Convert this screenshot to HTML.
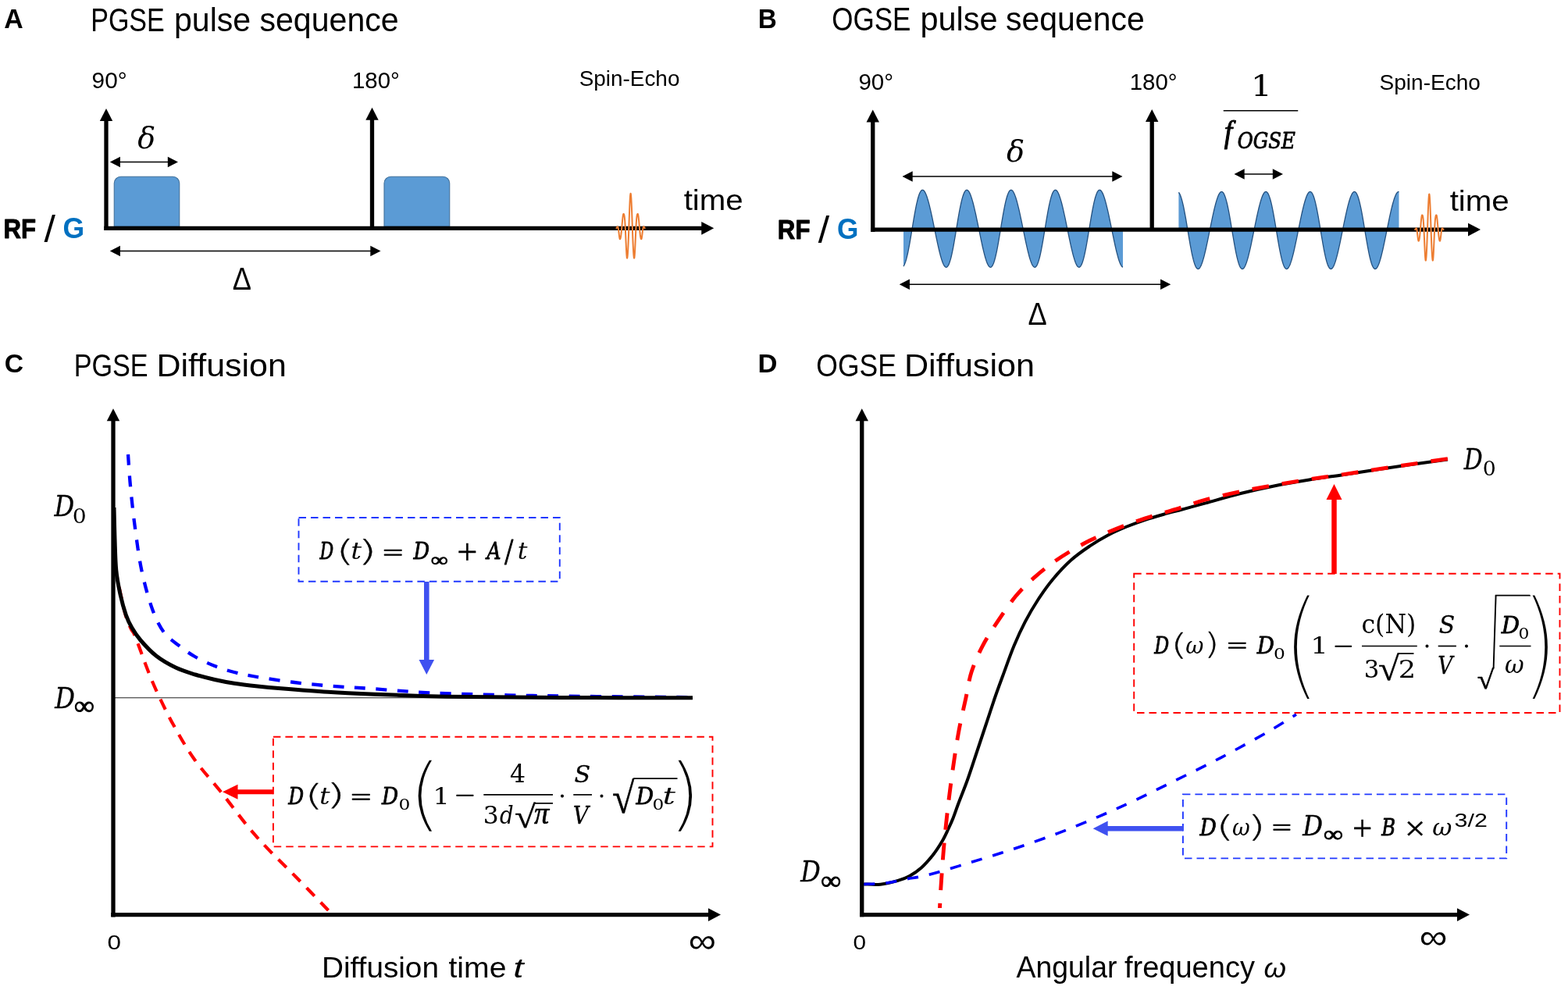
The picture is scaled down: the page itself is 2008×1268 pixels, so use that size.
<!DOCTYPE html>
<html lang="en"><head><meta charset="utf-8"><title>PGSE and OGSE pulse sequences and diffusion</title>
<style>html,body{margin:0;padding:0;background:#fff;overflow:hidden}svg{display:block}text{white-space:pre}</style></head>
<body><svg width="2008" height="1268" viewBox="0 0 2008 1268">
<rect width="2008" height="1268" fill="#fff"/>
<text transform="translate(5.35 36.10) scale(0.9870 1)" font-family='"Liberation Sans", sans-serif' font-size="34.33" font-weight="bold">A</text>
<text transform="translate(116.19 40.10) scale(0.8156 1)" font-family='"Liberation Sans", sans-serif' font-size="41.75">PGSE</text>
<text transform="translate(222.93 40.10) scale(0.9845 1)" font-family='"Liberation Sans", sans-serif' font-size="41.75">pulse</text>
<text transform="translate(332.47 40.10) scale(0.9846 1)" font-family='"Liberation Sans", sans-serif' font-size="41.75">sequence</text>
<text transform="translate(117.58 113.30) scale(1.0342 1)" font-family='"Liberation Sans", sans-serif' font-size="28.82">90°</text>
<text transform="translate(451.00 113.30) scale(1.0195 1)" font-family='"Liberation Sans", sans-serif' font-size="28.82">180°</text>
<text transform="translate(741.74 110.40) scale(0.9787 1)" font-family='"Liberation Sans", sans-serif' font-size="28.51">Spin-Echo</text>
<text transform="translate(875.65 268.75) scale(1.0892 1)" font-family='"Liberation Sans", sans-serif' font-size="37.00">time</text>
<text transform="translate(4.54 304.60) scale(0.8743 1)" font-family='"Liberation Sans", sans-serif' font-size="35.71" font-weight="bold" stroke="#000" stroke-width="0.9" stroke-linejoin="round" vector-effect="non-scaling-stroke">RF</text>
<text transform="translate(56.40 309.73) scale(1.0960 1)" font-family='"Liberation Sans", sans-serif' font-size="47.35">/</text>
<text transform="translate(80.58 304.73) scale(0.9638 1)" font-family='"Liberation Sans", sans-serif' font-size="36.89" font-weight="bold" fill="#0070c0">G</text>
<path d="M146.25,290 L146.25,234.75 A8.5,8.5 0 0 1 154.75,226.25 L221.25,226.25 A8.5,8.5 0 0 1 229.75,234.75 L229.75,290 Z" fill="#5b9bd5" stroke="#41719c" stroke-width="1.1"/>
<path d="M492,290 L492,234.75 A8.5,8.5 0 0 1 500.5,226.25 L567.25,226.25 A8.5,8.5 0 0 1 575.75,234.75 L575.75,290 Z" fill="#5b9bd5" stroke="#41719c" stroke-width="1.1"/>
<line x1="136.0" y1="294.9" x2="136.0" y2="154" stroke="#000" stroke-width="5.3"/>
<polygon points="136.00,139.00 144.20,155.00 127.80,155.00" fill="#000"/>
<line x1="133.3" y1="292.35" x2="899.25" y2="292.35" stroke="#000" stroke-width="5.2"/>
<polygon points="914.25,292.35 898.25,300.65 898.25,284.05" fill="#000"/>
<line x1="476.5" y1="292" x2="476.5" y2="152.8" stroke="#000" stroke-width="5.3"/>
<polygon points="476.50,137.80 484.70,153.80 468.30,153.80" fill="#000"/>
<path d="M789.40,292.10 L789.49,292.08 L789.58,292.03 L789.67,291.96 L789.76,291.85 L789.86,291.72 L789.95,291.58 L790.04,291.42 L790.13,291.25 L790.22,291.08 L790.31,290.91 L790.40,290.75 L790.49,290.60 L790.58,290.47 L790.67,290.37 L790.76,290.30 L790.86,290.26 L790.95,290.27 L791.04,290.32 L791.13,290.41 L791.22,290.56 L791.31,290.76 L791.40,291.01 L791.49,291.32 L791.58,291.68 L791.68,292.10 L791.77,292.57 L791.86,293.09 L791.95,293.67 L792.04,294.28 L792.13,294.94 L792.22,295.63 L792.31,296.35 L792.40,297.10 L792.49,297.86 L792.59,298.63 L792.68,299.41 L792.77,300.18 L792.86,300.93 L792.95,301.67 L793.04,302.38 L793.13,303.05 L793.22,303.67 L793.31,304.24 L793.40,304.76 L793.50,305.20 L793.59,305.58 L793.68,305.88 L793.77,306.10 L793.86,306.23 L793.95,306.28 L794.04,306.25 L794.13,306.18 L794.22,306.07 L794.31,305.90 L794.40,305.69 L794.50,305.43 L794.59,305.12 L794.68,304.76 L794.77,304.36 L794.86,303.90 L794.95,303.40 L795.04,302.86 L795.13,302.26 L795.22,301.62 L795.32,300.94 L795.41,300.21 L795.50,299.44 L795.59,298.64 L795.68,297.79 L795.77,296.91 L795.86,296.00 L795.95,295.06 L796.04,294.10 L796.13,293.11 L796.23,292.10 L796.32,291.08 L796.41,290.04 L796.50,289.00 L796.59,287.96 L796.68,286.92 L796.77,285.89 L796.86,284.87 L796.95,283.87 L797.04,282.88 L797.13,281.93 L797.23,281.01 L797.32,280.12 L797.41,279.28 L797.50,278.49 L797.59,277.74 L797.68,277.05 L797.77,276.42 L797.86,275.86 L797.95,275.36 L798.05,274.93 L798.14,274.58 L798.23,274.30 L798.32,274.10 L798.41,273.98 L798.50,273.94 L798.59,273.95 L798.68,273.99 L798.77,274.05 L798.86,274.15 L798.96,274.28 L799.05,274.46 L799.14,274.68 L799.23,274.96 L799.32,275.29 L799.41,275.69 L799.50,276.16 L799.59,276.70 L799.68,277.33 L799.77,278.04 L799.87,278.84 L799.96,279.73 L800.05,280.72 L800.14,281.80 L800.23,282.99 L800.32,284.27 L800.41,285.65 L800.50,287.13 L800.59,288.70 L800.68,290.36 L800.77,292.10 L800.87,293.92 L800.96,295.81 L801.05,297.75 L801.14,299.75 L801.23,301.79 L801.32,303.86 L801.41,305.95 L801.50,308.03 L801.59,310.11 L801.69,312.17 L801.78,314.18 L801.87,316.14 L801.96,318.04 L802.05,319.85 L802.14,321.57 L802.23,323.17 L802.32,324.65 L802.41,325.99 L802.50,327.18 L802.60,328.21 L802.69,329.07 L802.78,329.75 L802.87,330.24 L802.96,330.54 L803.05,330.64 L803.14,330.57 L803.23,330.36 L803.32,330.02 L803.41,329.53 L803.50,328.91 L803.60,328.15 L803.69,327.25 L803.78,326.22 L803.87,325.06 L803.96,323.76 L804.05,322.35 L804.14,320.80 L804.23,319.14 L804.32,317.37 L804.42,315.49 L804.51,313.50 L804.60,311.41 L804.69,309.23 L804.78,306.97 L804.87,304.64 L804.96,302.23 L805.05,299.76 L805.14,297.25 L805.23,294.69 L805.33,292.10 L805.42,289.49 L805.51,286.87 L805.60,284.24 L805.69,281.63 L805.78,279.04 L805.87,276.48 L805.96,273.96 L806.05,271.50 L806.14,269.11 L806.24,266.79 L806.33,264.56 L806.42,262.44 L806.51,260.42 L806.60,258.52 L806.69,256.75 L806.78,255.11 L806.87,253.63 L806.96,252.29 L807.05,251.12 L807.14,250.12 L807.24,249.29 L807.33,248.64 L807.42,248.18 L807.51,247.89 L807.60,247.80 L807.69,247.89 L807.78,248.18 L807.87,248.64 L807.96,249.29 L808.06,250.12 L808.15,251.12 L808.24,252.29 L808.33,253.63 L808.42,255.11 L808.51,256.75 L808.60,258.52 L808.69,260.42 L808.78,262.44 L808.87,264.56 L808.97,266.79 L809.06,269.11 L809.15,271.50 L809.24,273.96 L809.33,276.48 L809.42,279.04 L809.51,281.63 L809.60,284.24 L809.69,286.87 L809.78,289.49 L809.88,292.10 L809.97,294.69 L810.06,297.25 L810.15,299.76 L810.24,302.23 L810.33,304.64 L810.42,306.97 L810.51,309.23 L810.60,311.41 L810.69,313.50 L810.78,315.49 L810.88,317.37 L810.97,319.14 L811.06,320.80 L811.15,322.35 L811.24,323.76 L811.33,325.06 L811.42,326.22 L811.51,327.25 L811.60,328.15 L811.70,328.91 L811.79,329.53 L811.88,330.02 L811.97,330.36 L812.06,330.57 L812.15,330.64 L812.24,330.54 L812.33,330.24 L812.42,329.75 L812.51,329.07 L812.61,328.21 L812.70,327.18 L812.79,325.99 L812.88,324.65 L812.97,323.17 L813.06,321.57 L813.15,319.85 L813.24,318.04 L813.33,316.14 L813.42,314.18 L813.51,312.17 L813.61,310.11 L813.70,308.03 L813.79,305.95 L813.88,303.86 L813.97,301.79 L814.06,299.75 L814.15,297.75 L814.24,295.81 L814.33,293.92 L814.43,292.10 L814.52,290.36 L814.61,288.70 L814.70,287.13 L814.79,285.65 L814.88,284.27 L814.97,282.99 L815.06,281.80 L815.15,280.72 L815.24,279.73 L815.34,278.84 L815.43,278.04 L815.52,277.33 L815.61,276.70 L815.70,276.16 L815.79,275.69 L815.88,275.29 L815.97,274.96 L816.06,274.68 L816.15,274.46 L816.25,274.28 L816.34,274.15 L816.43,274.05 L816.52,273.99 L816.61,273.95 L816.70,273.94 L816.79,273.98 L816.88,274.10 L816.97,274.30 L817.06,274.58 L817.15,274.93 L817.25,275.36 L817.34,275.86 L817.43,276.42 L817.52,277.05 L817.61,277.74 L817.70,278.49 L817.79,279.28 L817.88,280.12 L817.97,281.01 L818.07,281.93 L818.16,282.88 L818.25,283.87 L818.34,284.87 L818.43,285.89 L818.52,286.92 L818.61,287.96 L818.70,289.00 L818.79,290.04 L818.88,291.08 L818.98,292.10 L819.07,293.11 L819.16,294.10 L819.25,295.06 L819.34,296.00 L819.43,296.91 L819.52,297.79 L819.61,298.64 L819.70,299.44 L819.79,300.21 L819.88,300.94 L819.98,301.62 L820.07,302.26 L820.16,302.86 L820.25,303.40 L820.34,303.90 L820.43,304.36 L820.52,304.76 L820.61,305.12 L820.70,305.43 L820.80,305.69 L820.89,305.90 L820.98,306.07 L821.07,306.18 L821.16,306.25 L821.25,306.28 L821.34,306.23 L821.43,306.10 L821.52,305.88 L821.61,305.58 L821.71,305.20 L821.80,304.76 L821.89,304.24 L821.98,303.67 L822.07,303.05 L822.16,302.38 L822.25,301.67 L822.34,300.93 L822.43,300.18 L822.52,299.41 L822.62,298.63 L822.71,297.86 L822.80,297.10 L822.89,296.35 L822.98,295.63 L823.07,294.94 L823.16,294.28 L823.25,293.67 L823.34,293.09 L823.43,292.57 L823.52,292.10 L823.62,291.68 L823.71,291.32 L823.80,291.01 L823.89,290.76 L823.98,290.56 L824.07,290.41 L824.16,290.32 L824.25,290.27 L824.34,290.26 L824.44,290.30 L824.53,290.37 L824.62,290.47 L824.71,290.60 L824.80,290.75 L824.89,290.91 L824.98,291.08 L825.07,291.25 L825.16,291.42 L825.25,291.58 L825.35,291.72 L825.44,291.85 L825.53,291.96 L825.62,292.03 L825.71,292.08 L825.80,292.10" fill="none" stroke="#ed7d31" stroke-width="2.0" stroke-linejoin="round" stroke-linecap="round"/>
<line x1="152.95" y1="207.5" x2="215.8" y2="207.5" stroke="#000" stroke-width="1.6"/>
<polygon points="140.75,207.50 153.95,200.80 153.95,214.20" fill="#000"/>
<polygon points="228.00,207.50 214.80,214.20 214.80,200.80" fill="#000"/>
<line x1="152.95" y1="321.5" x2="475.3" y2="321.5" stroke="#000" stroke-width="1.6"/>
<polygon points="140.75,321.50 153.95,314.80 153.95,328.20" fill="#000"/>
<polygon points="487.50,321.50 474.30,328.20 474.30,314.80" fill="#000"/>
<text transform="translate(176.24 189.85) scale(1.0421 1)" font-family='"DejaVu Serif", serif' font-size="36.41" font-style="italic">δ</text>
<text transform="translate(297.66 371.25) scale(0.9053 1)" font-family='"Liberation Sans", sans-serif' font-size="40.00">Δ</text>
<text transform="translate(970.85 36.10) scale(0.9695 1)" font-family='"Liberation Sans", sans-serif' font-size="34.33" font-weight="bold">B</text>
<text transform="translate(1065.24 38.80) scale(0.8422 1)" font-family='"Liberation Sans", sans-serif' font-size="41.60">OGSE</text>
<text transform="translate(1178.51 38.80) scale(0.9963 1)" font-family='"Liberation Sans", sans-serif' font-size="41.60">pulse</text>
<text transform="translate(1288.07 38.80) scale(0.9847 1)" font-family='"Liberation Sans", sans-serif' font-size="41.60">sequence</text>
<text transform="translate(1099.40 114.50) scale(1.0243 1)" font-family='"Liberation Sans", sans-serif' font-size="28.82">90°</text>
<text transform="translate(1446.69 114.50) scale(1.0213 1)" font-family='"Liberation Sans", sans-serif' font-size="28.82">180°</text>
<text transform="translate(1766.49 115.00) scale(1.0156 1)" font-family='"Liberation Sans", sans-serif' font-size="27.64">Spin-Echo</text>
<text transform="translate(1856.65 270.00) scale(1.0892 1)" font-family='"Liberation Sans", sans-serif' font-size="37.00">time</text>
<text transform="translate(995.84 306.20) scale(0.8743 1)" font-family='"Liberation Sans", sans-serif' font-size="35.71" font-weight="bold" stroke="#000" stroke-width="0.9" stroke-linejoin="round" vector-effect="non-scaling-stroke">RF</text>
<text transform="translate(1047.70 311.33) scale(1.0960 1)" font-family='"Liberation Sans", sans-serif' font-size="47.35">/</text>
<text transform="translate(1072.09 306.33) scale(0.9558 1)" font-family='"Liberation Sans", sans-serif' font-size="36.89" font-weight="bold" fill="#0070c0">G</text>
<path d="M1157.00,294.10 L1157.00,341.02 L1157.67,340.00 L1158.33,338.70 L1159.00,337.10 L1159.67,335.21 L1160.34,333.04 L1161.00,330.61 L1161.67,327.92 L1162.34,324.99 L1163.01,321.84 L1163.67,318.49 L1164.34,314.95 L1165.01,311.26 L1165.68,307.44 L1166.34,303.52 L1167.01,299.52 L1167.68,295.48 L1168.35,291.42 L1169.01,287.37 L1169.68,283.36 L1170.35,279.43 L1171.02,275.59 L1171.68,271.88 L1172.35,268.32 L1173.02,264.93 L1173.69,261.74 L1174.35,258.77 L1175.02,256.02 L1175.69,253.52 L1176.36,251.28 L1177.02,249.30 L1177.69,247.61 L1178.36,246.19 L1179.03,245.05 L1179.69,244.20 L1180.36,243.63 L1181.03,243.34 L1181.70,243.33 L1182.36,243.58 L1183.03,244.09 L1183.70,244.85 L1184.37,245.86 L1185.03,247.09 L1185.70,248.54 L1186.37,250.20 L1187.04,252.05 L1187.70,254.08 L1188.37,256.29 L1189.04,258.64 L1189.71,261.15 L1190.37,263.78 L1191.04,266.53 L1191.71,269.38 L1192.38,272.33 L1193.04,275.36 L1193.71,278.45 L1194.38,281.61 L1195.05,284.80 L1195.71,288.03 L1196.38,291.29 L1197.05,294.55 L1197.71,297.81 L1198.38,301.05 L1199.05,304.27 L1199.72,307.44 L1200.38,310.57 L1201.05,313.62 L1201.72,316.60 L1202.39,319.49 L1203.05,322.27 L1203.72,324.93 L1204.39,327.46 L1205.06,329.83 L1205.72,332.05 L1206.39,334.08 L1207.06,335.92 L1207.73,337.55 L1208.39,338.97 L1209.06,340.15 L1209.73,341.08 L1210.40,341.76 L1211.06,342.17 L1211.73,342.30 L1212.40,342.15 L1213.07,341.71 L1213.73,340.97 L1214.40,339.94 L1215.07,338.62 L1215.74,337.01 L1216.40,335.11 L1217.07,332.93 L1217.74,330.48 L1218.41,327.78 L1219.07,324.84 L1219.74,321.68 L1220.41,318.31 L1221.08,314.77 L1221.74,311.07 L1222.41,307.25 L1223.08,303.32 L1223.75,299.32 L1224.41,295.27 L1225.08,291.21 L1225.75,287.16 L1226.42,283.16 L1227.08,279.23 L1227.75,275.40 L1228.42,271.70 L1229.09,268.14 L1229.75,264.77 L1230.42,261.59 L1231.09,258.62 L1231.76,255.89 L1232.42,253.40 L1233.09,251.17 L1233.76,249.21 L1234.43,247.53 L1235.09,246.12 L1235.76,245.00 L1236.43,244.16 L1237.10,243.61 L1237.76,243.33 L1238.43,243.33 L1239.10,243.60 L1239.76,244.12 L1240.43,244.90 L1241.10,245.91 L1241.77,247.16 L1242.43,248.62 L1243.10,250.29 L1243.77,252.15 L1244.44,254.19 L1245.10,256.40 L1245.77,258.77 L1246.44,261.28 L1247.11,263.91 L1247.77,266.67 L1248.44,269.53 L1249.11,272.48 L1249.78,275.51 L1250.44,278.61 L1251.11,281.77 L1251.78,284.97 L1252.45,288.20 L1253.11,291.45 L1253.78,294.71 L1254.45,297.97 L1255.12,301.21 L1255.78,304.43 L1256.45,307.60 L1257.12,310.72 L1257.79,313.78 L1258.45,316.75 L1259.12,319.64 L1259.79,322.41 L1260.46,325.06 L1261.12,327.58 L1261.79,329.95 L1262.46,332.15 L1263.13,334.18 L1263.79,336.01 L1264.46,337.63 L1265.13,339.03 L1265.80,340.20 L1266.46,341.12 L1267.13,341.79 L1267.80,342.18 L1268.47,342.30 L1269.13,342.13 L1269.80,341.68 L1270.47,340.93 L1271.14,339.88 L1271.80,338.55 L1272.47,336.92 L1273.14,335.00 L1273.81,332.81 L1274.47,330.35 L1275.14,327.63 L1275.81,324.68 L1276.48,321.51 L1277.14,318.14 L1277.81,314.58 L1278.48,310.88 L1279.14,307.05 L1279.81,303.12 L1280.48,299.11 L1281.15,295.06 L1281.81,291.00 L1282.48,286.96 L1283.15,282.96 L1283.82,279.03 L1284.48,275.21 L1285.15,271.51 L1285.82,267.97 L1286.49,264.60 L1287.15,261.43 L1287.82,258.48 L1288.49,255.75 L1289.16,253.28 L1289.82,251.06 L1290.49,249.12 L1291.16,247.45 L1291.83,246.06 L1292.49,244.95 L1293.16,244.13 L1293.83,243.59 L1294.50,243.33 L1295.16,243.34 L1295.83,243.62 L1296.50,244.16 L1297.17,244.94 L1297.83,245.97 L1298.50,247.23 L1299.17,248.70 L1299.84,250.38 L1300.50,252.25 L1301.17,254.30 L1301.84,256.52 L1302.51,258.89 L1303.17,261.41 L1303.84,264.05 L1304.51,266.81 L1305.18,269.68 L1305.84,272.63 L1306.51,275.67 L1307.18,278.77 L1307.85,281.93 L1308.51,285.13 L1309.18,288.36 L1309.85,291.62 L1310.52,294.88 L1311.18,298.14 L1311.85,301.38 L1312.52,304.59 L1313.19,307.76 L1313.85,310.88 L1314.52,313.93 L1315.19,316.90 L1315.86,319.78 L1316.52,322.55 L1317.19,325.20 L1317.86,327.71 L1318.52,330.07 L1319.19,332.26 L1319.86,334.28 L1320.53,336.10 L1321.19,337.71 L1321.86,339.10 L1322.53,340.25 L1323.20,341.16 L1323.86,341.81 L1324.53,342.19 L1325.20,342.30 L1325.87,342.12 L1326.53,341.65 L1327.20,340.88 L1327.87,339.82 L1328.54,338.47 L1329.20,336.83 L1329.87,334.90 L1330.54,332.69 L1331.21,330.22 L1331.87,327.49 L1332.54,324.53 L1333.21,321.34 L1333.88,317.96 L1334.54,314.40 L1335.21,310.69 L1335.88,306.85 L1336.55,302.91 L1337.21,298.91 L1337.88,294.86 L1338.55,290.80 L1339.22,286.75 L1339.88,282.76 L1340.55,278.84 L1341.22,275.02 L1341.89,271.33 L1342.55,267.79 L1343.22,264.43 L1343.89,261.27 L1344.56,258.33 L1345.22,255.62 L1345.89,253.16 L1346.56,250.96 L1347.23,249.03 L1347.89,247.37 L1348.56,246.00 L1349.23,244.90 L1349.90,244.10 L1350.56,243.57 L1351.23,243.32 L1351.90,243.35 L1352.57,243.64 L1353.23,244.19 L1353.90,244.99 L1354.57,246.03 L1355.24,247.30 L1355.90,248.78 L1356.57,250.47 L1357.24,252.35 L1357.90,254.41 L1358.57,256.64 L1359.24,259.02 L1359.91,261.54 L1360.57,264.19 L1361.24,266.96 L1361.91,269.82 L1362.58,272.79 L1363.24,275.82 L1363.91,278.93 L1364.58,282.09 L1365.25,285.29 L1365.91,288.53 L1366.58,291.78 L1367.25,295.05 L1367.92,298.30 L1368.58,301.54 L1369.25,304.75 L1369.92,307.92 L1370.59,311.04 L1371.25,314.09 L1371.92,317.05 L1372.59,319.92 L1373.26,322.69 L1373.92,325.33 L1374.59,327.83 L1375.26,330.18 L1375.93,332.37 L1376.59,334.37 L1377.26,336.18 L1377.93,337.79 L1378.60,339.16 L1379.26,340.31 L1379.93,341.20 L1380.60,341.84 L1381.27,342.21 L1381.93,342.30 L1382.60,342.10 L1383.27,341.61 L1383.94,340.84 L1384.60,339.76 L1385.27,338.39 L1385.94,336.73 L1386.61,334.79 L1387.27,332.57 L1387.94,330.08 L1388.61,327.34 L1389.28,324.37 L1389.94,321.17 L1390.61,317.78 L1391.28,314.21 L1391.95,310.50 L1392.61,306.65 L1393.28,302.71 L1393.95,298.70 L1394.62,294.65 L1395.28,290.59 L1395.95,286.55 L1396.62,282.56 L1397.29,278.64 L1397.95,274.83 L1398.62,271.14 L1399.29,267.62 L1399.95,264.27 L1400.62,261.12 L1401.29,258.19 L1401.96,255.49 L1402.62,253.04 L1403.29,250.85 L1403.96,248.94 L1404.63,247.29 L1405.29,245.93 L1405.96,244.86 L1406.63,244.06 L1407.30,243.55 L1407.96,243.32 L1408.63,243.36 L1409.30,243.66 L1409.97,244.23 L1410.63,245.04 L1411.30,246.09 L1411.97,247.37 L1412.64,248.86 L1413.30,250.56 L1413.97,252.45 L1414.64,254.52 L1415.31,256.75 L1415.97,259.14 L1416.64,261.67 L1417.31,264.33 L1417.98,267.10 L1418.64,269.97 L1419.31,272.94 L1419.98,275.98 L1420.65,279.09 L1421.31,282.25 L1421.98,285.46 L1422.65,288.69 L1423.32,291.95 L1423.98,295.21 L1424.65,298.47 L1425.32,301.71 L1425.99,304.92 L1426.65,308.08 L1427.32,311.19 L1427.99,314.24 L1428.66,317.20 L1429.32,320.07 L1429.99,322.82 L1430.66,325.46 L1431.33,327.95 L1431.99,330.30 L1432.66,332.48 L1433.33,334.47 L1434.00,336.27 L1434.66,337.86 L1435.33,339.23 L1436.00,340.36 L1436.67,341.24 L1437.33,341.86 L1438.00,342.22 L1438.00,294.10Z" fill="#5b9bd5" stroke="none"/>
<path d="M1157.00,341.02 L1157.67,340.00 L1158.33,338.70 L1159.00,337.10 L1159.67,335.21 L1160.34,333.04 L1161.00,330.61 L1161.67,327.92 L1162.34,324.99 L1163.01,321.84 L1163.67,318.49 L1164.34,314.95 L1165.01,311.26 L1165.68,307.44 L1166.34,303.52 L1167.01,299.52 L1167.68,295.48 L1168.35,291.42 L1169.01,287.37 L1169.68,283.36 L1170.35,279.43 L1171.02,275.59 L1171.68,271.88 L1172.35,268.32 L1173.02,264.93 L1173.69,261.74 L1174.35,258.77 L1175.02,256.02 L1175.69,253.52 L1176.36,251.28 L1177.02,249.30 L1177.69,247.61 L1178.36,246.19 L1179.03,245.05 L1179.69,244.20 L1180.36,243.63 L1181.03,243.34 L1181.70,243.33 L1182.36,243.58 L1183.03,244.09 L1183.70,244.85 L1184.37,245.86 L1185.03,247.09 L1185.70,248.54 L1186.37,250.20 L1187.04,252.05 L1187.70,254.08 L1188.37,256.29 L1189.04,258.64 L1189.71,261.15 L1190.37,263.78 L1191.04,266.53 L1191.71,269.38 L1192.38,272.33 L1193.04,275.36 L1193.71,278.45 L1194.38,281.61 L1195.05,284.80 L1195.71,288.03 L1196.38,291.29 L1197.05,294.55 L1197.71,297.81 L1198.38,301.05 L1199.05,304.27 L1199.72,307.44 L1200.38,310.57 L1201.05,313.62 L1201.72,316.60 L1202.39,319.49 L1203.05,322.27 L1203.72,324.93 L1204.39,327.46 L1205.06,329.83 L1205.72,332.05 L1206.39,334.08 L1207.06,335.92 L1207.73,337.55 L1208.39,338.97 L1209.06,340.15 L1209.73,341.08 L1210.40,341.76 L1211.06,342.17 L1211.73,342.30 L1212.40,342.15 L1213.07,341.71 L1213.73,340.97 L1214.40,339.94 L1215.07,338.62 L1215.74,337.01 L1216.40,335.11 L1217.07,332.93 L1217.74,330.48 L1218.41,327.78 L1219.07,324.84 L1219.74,321.68 L1220.41,318.31 L1221.08,314.77 L1221.74,311.07 L1222.41,307.25 L1223.08,303.32 L1223.75,299.32 L1224.41,295.27 L1225.08,291.21 L1225.75,287.16 L1226.42,283.16 L1227.08,279.23 L1227.75,275.40 L1228.42,271.70 L1229.09,268.14 L1229.75,264.77 L1230.42,261.59 L1231.09,258.62 L1231.76,255.89 L1232.42,253.40 L1233.09,251.17 L1233.76,249.21 L1234.43,247.53 L1235.09,246.12 L1235.76,245.00 L1236.43,244.16 L1237.10,243.61 L1237.76,243.33 L1238.43,243.33 L1239.10,243.60 L1239.76,244.12 L1240.43,244.90 L1241.10,245.91 L1241.77,247.16 L1242.43,248.62 L1243.10,250.29 L1243.77,252.15 L1244.44,254.19 L1245.10,256.40 L1245.77,258.77 L1246.44,261.28 L1247.11,263.91 L1247.77,266.67 L1248.44,269.53 L1249.11,272.48 L1249.78,275.51 L1250.44,278.61 L1251.11,281.77 L1251.78,284.97 L1252.45,288.20 L1253.11,291.45 L1253.78,294.71 L1254.45,297.97 L1255.12,301.21 L1255.78,304.43 L1256.45,307.60 L1257.12,310.72 L1257.79,313.78 L1258.45,316.75 L1259.12,319.64 L1259.79,322.41 L1260.46,325.06 L1261.12,327.58 L1261.79,329.95 L1262.46,332.15 L1263.13,334.18 L1263.79,336.01 L1264.46,337.63 L1265.13,339.03 L1265.80,340.20 L1266.46,341.12 L1267.13,341.79 L1267.80,342.18 L1268.47,342.30 L1269.13,342.13 L1269.80,341.68 L1270.47,340.93 L1271.14,339.88 L1271.80,338.55 L1272.47,336.92 L1273.14,335.00 L1273.81,332.81 L1274.47,330.35 L1275.14,327.63 L1275.81,324.68 L1276.48,321.51 L1277.14,318.14 L1277.81,314.58 L1278.48,310.88 L1279.14,307.05 L1279.81,303.12 L1280.48,299.11 L1281.15,295.06 L1281.81,291.00 L1282.48,286.96 L1283.15,282.96 L1283.82,279.03 L1284.48,275.21 L1285.15,271.51 L1285.82,267.97 L1286.49,264.60 L1287.15,261.43 L1287.82,258.48 L1288.49,255.75 L1289.16,253.28 L1289.82,251.06 L1290.49,249.12 L1291.16,247.45 L1291.83,246.06 L1292.49,244.95 L1293.16,244.13 L1293.83,243.59 L1294.50,243.33 L1295.16,243.34 L1295.83,243.62 L1296.50,244.16 L1297.17,244.94 L1297.83,245.97 L1298.50,247.23 L1299.17,248.70 L1299.84,250.38 L1300.50,252.25 L1301.17,254.30 L1301.84,256.52 L1302.51,258.89 L1303.17,261.41 L1303.84,264.05 L1304.51,266.81 L1305.18,269.68 L1305.84,272.63 L1306.51,275.67 L1307.18,278.77 L1307.85,281.93 L1308.51,285.13 L1309.18,288.36 L1309.85,291.62 L1310.52,294.88 L1311.18,298.14 L1311.85,301.38 L1312.52,304.59 L1313.19,307.76 L1313.85,310.88 L1314.52,313.93 L1315.19,316.90 L1315.86,319.78 L1316.52,322.55 L1317.19,325.20 L1317.86,327.71 L1318.52,330.07 L1319.19,332.26 L1319.86,334.28 L1320.53,336.10 L1321.19,337.71 L1321.86,339.10 L1322.53,340.25 L1323.20,341.16 L1323.86,341.81 L1324.53,342.19 L1325.20,342.30 L1325.87,342.12 L1326.53,341.65 L1327.20,340.88 L1327.87,339.82 L1328.54,338.47 L1329.20,336.83 L1329.87,334.90 L1330.54,332.69 L1331.21,330.22 L1331.87,327.49 L1332.54,324.53 L1333.21,321.34 L1333.88,317.96 L1334.54,314.40 L1335.21,310.69 L1335.88,306.85 L1336.55,302.91 L1337.21,298.91 L1337.88,294.86 L1338.55,290.80 L1339.22,286.75 L1339.88,282.76 L1340.55,278.84 L1341.22,275.02 L1341.89,271.33 L1342.55,267.79 L1343.22,264.43 L1343.89,261.27 L1344.56,258.33 L1345.22,255.62 L1345.89,253.16 L1346.56,250.96 L1347.23,249.03 L1347.89,247.37 L1348.56,246.00 L1349.23,244.90 L1349.90,244.10 L1350.56,243.57 L1351.23,243.32 L1351.90,243.35 L1352.57,243.64 L1353.23,244.19 L1353.90,244.99 L1354.57,246.03 L1355.24,247.30 L1355.90,248.78 L1356.57,250.47 L1357.24,252.35 L1357.90,254.41 L1358.57,256.64 L1359.24,259.02 L1359.91,261.54 L1360.57,264.19 L1361.24,266.96 L1361.91,269.82 L1362.58,272.79 L1363.24,275.82 L1363.91,278.93 L1364.58,282.09 L1365.25,285.29 L1365.91,288.53 L1366.58,291.78 L1367.25,295.05 L1367.92,298.30 L1368.58,301.54 L1369.25,304.75 L1369.92,307.92 L1370.59,311.04 L1371.25,314.09 L1371.92,317.05 L1372.59,319.92 L1373.26,322.69 L1373.92,325.33 L1374.59,327.83 L1375.26,330.18 L1375.93,332.37 L1376.59,334.37 L1377.26,336.18 L1377.93,337.79 L1378.60,339.16 L1379.26,340.31 L1379.93,341.20 L1380.60,341.84 L1381.27,342.21 L1381.93,342.30 L1382.60,342.10 L1383.27,341.61 L1383.94,340.84 L1384.60,339.76 L1385.27,338.39 L1385.94,336.73 L1386.61,334.79 L1387.27,332.57 L1387.94,330.08 L1388.61,327.34 L1389.28,324.37 L1389.94,321.17 L1390.61,317.78 L1391.28,314.21 L1391.95,310.50 L1392.61,306.65 L1393.28,302.71 L1393.95,298.70 L1394.62,294.65 L1395.28,290.59 L1395.95,286.55 L1396.62,282.56 L1397.29,278.64 L1397.95,274.83 L1398.62,271.14 L1399.29,267.62 L1399.95,264.27 L1400.62,261.12 L1401.29,258.19 L1401.96,255.49 L1402.62,253.04 L1403.29,250.85 L1403.96,248.94 L1404.63,247.29 L1405.29,245.93 L1405.96,244.86 L1406.63,244.06 L1407.30,243.55 L1407.96,243.32 L1408.63,243.36 L1409.30,243.66 L1409.97,244.23 L1410.63,245.04 L1411.30,246.09 L1411.97,247.37 L1412.64,248.86 L1413.30,250.56 L1413.97,252.45 L1414.64,254.52 L1415.31,256.75 L1415.97,259.14 L1416.64,261.67 L1417.31,264.33 L1417.98,267.10 L1418.64,269.97 L1419.31,272.94 L1419.98,275.98 L1420.65,279.09 L1421.31,282.25 L1421.98,285.46 L1422.65,288.69 L1423.32,291.95 L1423.98,295.21 L1424.65,298.47 L1425.32,301.71 L1425.99,304.92 L1426.65,308.08 L1427.32,311.19 L1427.99,314.24 L1428.66,317.20 L1429.32,320.07 L1429.99,322.82 L1430.66,325.46 L1431.33,327.95 L1431.99,330.30 L1432.66,332.48 L1433.33,334.47 L1434.00,336.27 L1434.66,337.86 L1435.33,339.23 L1436.00,340.36 L1436.67,341.24 L1437.33,341.86 L1438.00,342.22" fill="none" stroke="#23507f" stroke-width="1.3"/>
<path d="M1509.40,294.10 L1509.40,246.39 L1510.07,247.24 L1510.73,248.36 L1511.40,249.77 L1512.07,251.45 L1512.73,253.41 L1513.40,255.63 L1514.07,258.10 L1514.74,260.82 L1515.40,263.76 L1516.07,266.91 L1516.74,270.26 L1517.40,273.78 L1518.07,277.44 L1518.74,281.23 L1519.40,285.12 L1520.07,289.08 L1520.74,293.09 L1521.40,297.11 L1522.07,301.12 L1522.74,305.09 L1523.40,308.98 L1524.07,312.79 L1524.74,316.47 L1525.41,320.00 L1526.07,323.36 L1526.74,326.52 L1527.41,329.48 L1528.07,332.20 L1528.74,334.67 L1529.41,336.89 L1530.07,338.83 L1530.74,340.49 L1531.41,341.87 L1532.07,342.96 L1532.74,343.76 L1533.41,344.27 L1534.08,344.49 L1534.74,344.43 L1535.41,344.09 L1536.08,343.48 L1536.74,342.62 L1537.41,341.51 L1538.08,340.16 L1538.74,338.58 L1539.41,336.79 L1540.08,334.81 L1540.74,332.64 L1541.41,330.30 L1542.08,327.80 L1542.75,325.16 L1543.41,322.39 L1544.08,319.51 L1544.75,316.54 L1545.41,313.47 L1546.08,310.34 L1546.75,307.14 L1547.41,303.91 L1548.08,300.64 L1548.75,297.35 L1549.41,294.05 L1550.08,290.77 L1550.75,287.50 L1551.41,284.26 L1552.08,281.07 L1552.75,277.93 L1553.42,274.86 L1554.08,271.88 L1554.75,268.99 L1555.42,266.20 L1556.08,263.54 L1556.75,261.01 L1557.42,258.62 L1558.08,256.40 L1558.75,254.34 L1559.42,252.47 L1560.08,250.80 L1560.75,249.34 L1561.42,248.09 L1562.09,247.08 L1562.75,246.31 L1563.42,245.79 L1564.09,245.53 L1564.75,245.54 L1565.42,245.82 L1566.09,246.38 L1566.75,247.22 L1567.42,248.34 L1568.09,249.74 L1568.75,251.42 L1569.42,253.37 L1570.09,255.58 L1570.76,258.05 L1571.42,260.76 L1572.09,263.70 L1572.76,266.85 L1573.42,270.19 L1574.09,273.70 L1574.76,277.37 L1575.42,281.16 L1576.09,285.04 L1576.76,289.00 L1577.42,293.01 L1578.09,297.03 L1578.76,301.04 L1579.42,305.01 L1580.09,308.91 L1580.76,312.71 L1581.43,316.39 L1582.09,319.93 L1582.76,323.29 L1583.43,326.46 L1584.09,329.42 L1584.76,332.15 L1585.43,334.62 L1586.09,336.84 L1586.76,338.79 L1587.43,340.46 L1588.09,341.85 L1588.76,342.94 L1589.43,343.75 L1590.10,344.26 L1590.76,344.49 L1591.43,344.43 L1592.10,344.10 L1592.76,343.50 L1593.43,342.64 L1594.10,341.53 L1594.76,340.18 L1595.43,338.61 L1596.10,336.83 L1596.76,334.85 L1597.43,332.68 L1598.10,330.34 L1598.77,327.85 L1599.43,325.21 L1600.10,322.45 L1600.77,319.57 L1601.43,316.60 L1602.10,313.53 L1602.77,310.40 L1603.43,307.21 L1604.10,303.97 L1604.77,300.70 L1605.43,297.41 L1606.10,294.12 L1606.77,290.83 L1607.43,287.56 L1608.10,284.32 L1608.77,281.13 L1609.44,277.99 L1610.10,274.92 L1610.77,271.94 L1611.44,269.04 L1612.10,266.26 L1612.77,263.59 L1613.44,261.06 L1614.10,258.67 L1614.77,256.44 L1615.44,254.38 L1616.10,252.51 L1616.77,250.83 L1617.44,249.36 L1618.11,248.11 L1618.77,247.10 L1619.44,246.32 L1620.11,245.80 L1620.77,245.53 L1621.44,245.54 L1622.11,245.81 L1622.77,246.36 L1623.44,247.20 L1624.11,248.31 L1624.77,249.71 L1625.44,251.38 L1626.11,253.33 L1626.77,255.53 L1627.44,258.00 L1628.11,260.70 L1628.78,263.64 L1629.44,266.78 L1630.11,270.12 L1630.78,273.63 L1631.44,277.29 L1632.11,281.08 L1632.78,284.97 L1633.44,288.92 L1634.11,292.93 L1634.78,296.95 L1635.44,300.96 L1636.11,304.93 L1636.78,308.83 L1637.45,312.64 L1638.11,316.32 L1638.78,319.86 L1639.45,323.23 L1640.11,326.40 L1640.78,329.36 L1641.45,332.09 L1642.11,334.58 L1642.78,336.80 L1643.45,338.76 L1644.11,340.43 L1644.78,341.82 L1645.45,342.92 L1646.12,343.73 L1646.78,344.25 L1647.45,344.49 L1648.12,344.44 L1648.78,344.11 L1649.45,343.51 L1650.12,342.66 L1650.78,341.56 L1651.45,340.21 L1652.12,338.65 L1652.78,336.87 L1653.45,334.89 L1654.12,332.73 L1654.78,330.39 L1655.45,327.90 L1656.12,325.27 L1656.79,322.51 L1657.45,319.63 L1658.12,316.66 L1658.79,313.60 L1659.45,310.46 L1660.12,307.27 L1660.79,304.04 L1661.45,300.77 L1662.12,297.48 L1662.79,294.18 L1663.45,290.90 L1664.12,287.63 L1664.79,284.39 L1665.46,281.19 L1666.12,278.05 L1666.79,274.98 L1667.46,272.00 L1668.12,269.10 L1668.79,266.31 L1669.46,263.64 L1670.12,261.11 L1670.79,258.72 L1671.46,256.48 L1672.12,254.42 L1672.79,252.54 L1673.46,250.86 L1674.13,249.39 L1674.79,248.14 L1675.46,247.11 L1676.13,246.33 L1676.79,245.80 L1677.46,245.54 L1678.13,245.53 L1678.79,245.80 L1679.46,246.35 L1680.13,247.18 L1680.79,248.29 L1681.46,249.68 L1682.13,251.34 L1682.79,253.28 L1683.46,255.49 L1684.13,257.95 L1684.80,260.65 L1685.46,263.58 L1686.13,266.72 L1686.80,270.05 L1687.46,273.56 L1688.13,277.22 L1688.80,281.00 L1689.46,284.89 L1690.13,288.84 L1690.80,292.85 L1691.46,296.87 L1692.13,300.88 L1692.80,304.85 L1693.47,308.75 L1694.13,312.56 L1694.80,316.25 L1695.47,319.79 L1696.13,323.16 L1696.80,326.34 L1697.47,329.31 L1698.13,332.04 L1698.80,334.53 L1699.47,336.76 L1700.13,338.72 L1700.80,340.40 L1701.47,341.80 L1702.13,342.90 L1702.80,343.72 L1703.47,344.25 L1704.14,344.48 L1704.80,344.44 L1705.47,344.12 L1706.14,343.53 L1706.80,342.68 L1707.47,341.58 L1708.14,340.24 L1708.80,338.68 L1709.47,336.90 L1710.14,334.93 L1710.80,332.77 L1711.47,330.44 L1712.14,327.95 L1712.81,325.32 L1713.47,322.56 L1714.14,319.69 L1714.81,316.72 L1715.47,313.66 L1716.14,310.53 L1716.81,307.34 L1717.47,304.10 L1718.14,300.83 L1718.81,297.54 L1719.47,294.25 L1720.14,290.96 L1720.81,287.69 L1721.48,284.45 L1722.14,281.26 L1722.81,278.12 L1723.48,275.04 L1724.14,272.05 L1724.81,269.16 L1725.48,266.37 L1726.14,263.70 L1726.81,261.16 L1727.48,258.76 L1728.14,256.53 L1728.81,254.46 L1729.48,252.58 L1730.14,250.89 L1730.81,249.42 L1731.48,248.16 L1732.15,247.13 L1732.81,246.35 L1733.48,245.81 L1734.15,245.54 L1734.81,245.53 L1735.48,245.79 L1736.15,246.34 L1736.81,247.16 L1737.48,248.26 L1738.15,249.65 L1738.81,251.31 L1739.48,253.24 L1740.15,255.44 L1740.82,257.89 L1741.48,260.59 L1742.15,263.52 L1742.82,266.65 L1743.48,269.99 L1744.15,273.49 L1744.82,277.15 L1745.48,280.93 L1746.15,284.81 L1746.82,288.77 L1747.48,292.77 L1748.15,296.79 L1748.82,300.80 L1749.49,304.77 L1750.15,308.68 L1750.82,312.49 L1751.49,316.18 L1752.15,319.72 L1752.82,323.10 L1753.49,326.28 L1754.15,329.25 L1754.82,331.99 L1755.49,334.48 L1756.15,336.72 L1756.82,338.68 L1757.49,340.37 L1758.15,341.77 L1758.82,342.88 L1759.49,343.71 L1760.16,344.24 L1760.82,344.48 L1761.49,344.44 L1762.16,344.13 L1762.82,343.54 L1763.49,342.70 L1764.16,341.60 L1764.82,340.27 L1765.49,338.71 L1766.16,336.94 L1766.82,334.97 L1767.49,332.81 L1768.16,330.49 L1768.83,328.00 L1769.49,325.37 L1770.16,322.62 L1770.83,319.75 L1771.49,316.78 L1772.16,313.72 L1772.83,310.59 L1773.49,307.40 L1774.16,304.16 L1774.83,300.90 L1775.49,297.61 L1776.16,294.31 L1776.83,291.03 L1777.50,287.76 L1778.16,284.52 L1778.83,281.32 L1779.50,278.18 L1780.16,275.10 L1780.83,272.11 L1781.50,269.21 L1782.16,266.42 L1782.83,263.75 L1783.50,261.21 L1784.16,258.81 L1784.83,256.57 L1785.50,254.50 L1786.16,252.62 L1786.83,250.93 L1787.50,249.44 L1788.17,248.18 L1788.83,247.15 L1789.50,246.36 L1790.17,245.82 L1790.83,245.54 L1791.50,245.53 L1791.50,294.10Z" fill="#5b9bd5" stroke="none"/>
<path d="M1509.40,246.39 L1510.07,247.24 L1510.73,248.36 L1511.40,249.77 L1512.07,251.45 L1512.73,253.41 L1513.40,255.63 L1514.07,258.10 L1514.74,260.82 L1515.40,263.76 L1516.07,266.91 L1516.74,270.26 L1517.40,273.78 L1518.07,277.44 L1518.74,281.23 L1519.40,285.12 L1520.07,289.08 L1520.74,293.09 L1521.40,297.11 L1522.07,301.12 L1522.74,305.09 L1523.40,308.98 L1524.07,312.79 L1524.74,316.47 L1525.41,320.00 L1526.07,323.36 L1526.74,326.52 L1527.41,329.48 L1528.07,332.20 L1528.74,334.67 L1529.41,336.89 L1530.07,338.83 L1530.74,340.49 L1531.41,341.87 L1532.07,342.96 L1532.74,343.76 L1533.41,344.27 L1534.08,344.49 L1534.74,344.43 L1535.41,344.09 L1536.08,343.48 L1536.74,342.62 L1537.41,341.51 L1538.08,340.16 L1538.74,338.58 L1539.41,336.79 L1540.08,334.81 L1540.74,332.64 L1541.41,330.30 L1542.08,327.80 L1542.75,325.16 L1543.41,322.39 L1544.08,319.51 L1544.75,316.54 L1545.41,313.47 L1546.08,310.34 L1546.75,307.14 L1547.41,303.91 L1548.08,300.64 L1548.75,297.35 L1549.41,294.05 L1550.08,290.77 L1550.75,287.50 L1551.41,284.26 L1552.08,281.07 L1552.75,277.93 L1553.42,274.86 L1554.08,271.88 L1554.75,268.99 L1555.42,266.20 L1556.08,263.54 L1556.75,261.01 L1557.42,258.62 L1558.08,256.40 L1558.75,254.34 L1559.42,252.47 L1560.08,250.80 L1560.75,249.34 L1561.42,248.09 L1562.09,247.08 L1562.75,246.31 L1563.42,245.79 L1564.09,245.53 L1564.75,245.54 L1565.42,245.82 L1566.09,246.38 L1566.75,247.22 L1567.42,248.34 L1568.09,249.74 L1568.75,251.42 L1569.42,253.37 L1570.09,255.58 L1570.76,258.05 L1571.42,260.76 L1572.09,263.70 L1572.76,266.85 L1573.42,270.19 L1574.09,273.70 L1574.76,277.37 L1575.42,281.16 L1576.09,285.04 L1576.76,289.00 L1577.42,293.01 L1578.09,297.03 L1578.76,301.04 L1579.42,305.01 L1580.09,308.91 L1580.76,312.71 L1581.43,316.39 L1582.09,319.93 L1582.76,323.29 L1583.43,326.46 L1584.09,329.42 L1584.76,332.15 L1585.43,334.62 L1586.09,336.84 L1586.76,338.79 L1587.43,340.46 L1588.09,341.85 L1588.76,342.94 L1589.43,343.75 L1590.10,344.26 L1590.76,344.49 L1591.43,344.43 L1592.10,344.10 L1592.76,343.50 L1593.43,342.64 L1594.10,341.53 L1594.76,340.18 L1595.43,338.61 L1596.10,336.83 L1596.76,334.85 L1597.43,332.68 L1598.10,330.34 L1598.77,327.85 L1599.43,325.21 L1600.10,322.45 L1600.77,319.57 L1601.43,316.60 L1602.10,313.53 L1602.77,310.40 L1603.43,307.21 L1604.10,303.97 L1604.77,300.70 L1605.43,297.41 L1606.10,294.12 L1606.77,290.83 L1607.43,287.56 L1608.10,284.32 L1608.77,281.13 L1609.44,277.99 L1610.10,274.92 L1610.77,271.94 L1611.44,269.04 L1612.10,266.26 L1612.77,263.59 L1613.44,261.06 L1614.10,258.67 L1614.77,256.44 L1615.44,254.38 L1616.10,252.51 L1616.77,250.83 L1617.44,249.36 L1618.11,248.11 L1618.77,247.10 L1619.44,246.32 L1620.11,245.80 L1620.77,245.53 L1621.44,245.54 L1622.11,245.81 L1622.77,246.36 L1623.44,247.20 L1624.11,248.31 L1624.77,249.71 L1625.44,251.38 L1626.11,253.33 L1626.77,255.53 L1627.44,258.00 L1628.11,260.70 L1628.78,263.64 L1629.44,266.78 L1630.11,270.12 L1630.78,273.63 L1631.44,277.29 L1632.11,281.08 L1632.78,284.97 L1633.44,288.92 L1634.11,292.93 L1634.78,296.95 L1635.44,300.96 L1636.11,304.93 L1636.78,308.83 L1637.45,312.64 L1638.11,316.32 L1638.78,319.86 L1639.45,323.23 L1640.11,326.40 L1640.78,329.36 L1641.45,332.09 L1642.11,334.58 L1642.78,336.80 L1643.45,338.76 L1644.11,340.43 L1644.78,341.82 L1645.45,342.92 L1646.12,343.73 L1646.78,344.25 L1647.45,344.49 L1648.12,344.44 L1648.78,344.11 L1649.45,343.51 L1650.12,342.66 L1650.78,341.56 L1651.45,340.21 L1652.12,338.65 L1652.78,336.87 L1653.45,334.89 L1654.12,332.73 L1654.78,330.39 L1655.45,327.90 L1656.12,325.27 L1656.79,322.51 L1657.45,319.63 L1658.12,316.66 L1658.79,313.60 L1659.45,310.46 L1660.12,307.27 L1660.79,304.04 L1661.45,300.77 L1662.12,297.48 L1662.79,294.18 L1663.45,290.90 L1664.12,287.63 L1664.79,284.39 L1665.46,281.19 L1666.12,278.05 L1666.79,274.98 L1667.46,272.00 L1668.12,269.10 L1668.79,266.31 L1669.46,263.64 L1670.12,261.11 L1670.79,258.72 L1671.46,256.48 L1672.12,254.42 L1672.79,252.54 L1673.46,250.86 L1674.13,249.39 L1674.79,248.14 L1675.46,247.11 L1676.13,246.33 L1676.79,245.80 L1677.46,245.54 L1678.13,245.53 L1678.79,245.80 L1679.46,246.35 L1680.13,247.18 L1680.79,248.29 L1681.46,249.68 L1682.13,251.34 L1682.79,253.28 L1683.46,255.49 L1684.13,257.95 L1684.80,260.65 L1685.46,263.58 L1686.13,266.72 L1686.80,270.05 L1687.46,273.56 L1688.13,277.22 L1688.80,281.00 L1689.46,284.89 L1690.13,288.84 L1690.80,292.85 L1691.46,296.87 L1692.13,300.88 L1692.80,304.85 L1693.47,308.75 L1694.13,312.56 L1694.80,316.25 L1695.47,319.79 L1696.13,323.16 L1696.80,326.34 L1697.47,329.31 L1698.13,332.04 L1698.80,334.53 L1699.47,336.76 L1700.13,338.72 L1700.80,340.40 L1701.47,341.80 L1702.13,342.90 L1702.80,343.72 L1703.47,344.25 L1704.14,344.48 L1704.80,344.44 L1705.47,344.12 L1706.14,343.53 L1706.80,342.68 L1707.47,341.58 L1708.14,340.24 L1708.80,338.68 L1709.47,336.90 L1710.14,334.93 L1710.80,332.77 L1711.47,330.44 L1712.14,327.95 L1712.81,325.32 L1713.47,322.56 L1714.14,319.69 L1714.81,316.72 L1715.47,313.66 L1716.14,310.53 L1716.81,307.34 L1717.47,304.10 L1718.14,300.83 L1718.81,297.54 L1719.47,294.25 L1720.14,290.96 L1720.81,287.69 L1721.48,284.45 L1722.14,281.26 L1722.81,278.12 L1723.48,275.04 L1724.14,272.05 L1724.81,269.16 L1725.48,266.37 L1726.14,263.70 L1726.81,261.16 L1727.48,258.76 L1728.14,256.53 L1728.81,254.46 L1729.48,252.58 L1730.14,250.89 L1730.81,249.42 L1731.48,248.16 L1732.15,247.13 L1732.81,246.35 L1733.48,245.81 L1734.15,245.54 L1734.81,245.53 L1735.48,245.79 L1736.15,246.34 L1736.81,247.16 L1737.48,248.26 L1738.15,249.65 L1738.81,251.31 L1739.48,253.24 L1740.15,255.44 L1740.82,257.89 L1741.48,260.59 L1742.15,263.52 L1742.82,266.65 L1743.48,269.99 L1744.15,273.49 L1744.82,277.15 L1745.48,280.93 L1746.15,284.81 L1746.82,288.77 L1747.48,292.77 L1748.15,296.79 L1748.82,300.80 L1749.49,304.77 L1750.15,308.68 L1750.82,312.49 L1751.49,316.18 L1752.15,319.72 L1752.82,323.10 L1753.49,326.28 L1754.15,329.25 L1754.82,331.99 L1755.49,334.48 L1756.15,336.72 L1756.82,338.68 L1757.49,340.37 L1758.15,341.77 L1758.82,342.88 L1759.49,343.71 L1760.16,344.24 L1760.82,344.48 L1761.49,344.44 L1762.16,344.13 L1762.82,343.54 L1763.49,342.70 L1764.16,341.60 L1764.82,340.27 L1765.49,338.71 L1766.16,336.94 L1766.82,334.97 L1767.49,332.81 L1768.16,330.49 L1768.83,328.00 L1769.49,325.37 L1770.16,322.62 L1770.83,319.75 L1771.49,316.78 L1772.16,313.72 L1772.83,310.59 L1773.49,307.40 L1774.16,304.16 L1774.83,300.90 L1775.49,297.61 L1776.16,294.31 L1776.83,291.03 L1777.50,287.76 L1778.16,284.52 L1778.83,281.32 L1779.50,278.18 L1780.16,275.10 L1780.83,272.11 L1781.50,269.21 L1782.16,266.42 L1782.83,263.75 L1783.50,261.21 L1784.16,258.81 L1784.83,256.57 L1785.50,254.50 L1786.16,252.62 L1786.83,250.93 L1787.50,249.44 L1788.17,248.18 L1788.83,247.15 L1789.50,246.36 L1790.17,245.82 L1790.83,245.54 L1791.50,245.53" fill="none" stroke="#23507f" stroke-width="1.3"/>
<line x1="1117.75" y1="297" x2="1117.75" y2="155.5" stroke="#000" stroke-width="5.3"/>
<polygon points="1117.75,140.50 1125.95,156.50 1109.55,156.50" fill="#000"/>
<line x1="1115" y1="294.1" x2="1881" y2="294.1" stroke="#000" stroke-width="5.2"/>
<polygon points="1896.00,294.10 1880.00,302.40 1880.00,285.80" fill="#000"/>
<line x1="1475.2" y1="294" x2="1475.2" y2="155" stroke="#000" stroke-width="5.3"/>
<polygon points="1475.20,140.00 1483.40,156.00 1467.00,156.00" fill="#000"/>
<path d="M1812.10,294.10 L1812.19,294.08 L1812.28,294.03 L1812.37,293.95 L1812.46,293.84 L1812.56,293.71 L1812.65,293.56 L1812.74,293.40 L1812.83,293.22 L1812.92,293.05 L1813.01,292.87 L1813.10,292.71 L1813.19,292.56 L1813.28,292.43 L1813.37,292.32 L1813.46,292.25 L1813.56,292.21 L1813.65,292.22 L1813.74,292.27 L1813.83,292.37 L1813.92,292.52 L1814.01,292.72 L1814.10,292.98 L1814.19,293.30 L1814.28,293.67 L1814.38,294.10 L1814.47,294.58 L1814.56,295.12 L1814.65,295.71 L1814.74,296.34 L1814.83,297.02 L1814.92,297.73 L1815.01,298.47 L1815.10,299.23 L1815.19,300.02 L1815.28,300.81 L1815.38,301.61 L1815.47,302.40 L1815.56,303.17 L1815.65,303.93 L1815.74,304.65 L1815.83,305.34 L1815.92,305.98 L1816.01,306.57 L1816.10,307.10 L1816.19,307.56 L1816.29,307.95 L1816.38,308.25 L1816.47,308.48 L1816.56,308.61 L1816.65,308.66 L1816.74,308.64 L1816.83,308.56 L1816.92,308.44 L1817.01,308.27 L1817.11,308.06 L1817.20,307.79 L1817.29,307.47 L1817.38,307.11 L1817.47,306.69 L1817.56,306.22 L1817.65,305.71 L1817.74,305.15 L1817.83,304.54 L1817.92,303.88 L1818.01,303.18 L1818.11,302.43 L1818.20,301.64 L1818.29,300.81 L1818.38,299.95 L1818.47,299.04 L1818.56,298.11 L1818.65,297.14 L1818.74,296.15 L1818.83,295.14 L1818.92,294.10 L1819.02,293.05 L1819.11,291.99 L1819.20,290.92 L1819.29,289.85 L1819.38,288.78 L1819.47,287.72 L1819.56,286.67 L1819.65,285.64 L1819.74,284.63 L1819.84,283.65 L1819.93,282.71 L1820.02,281.80 L1820.11,280.93 L1820.20,280.12 L1820.29,279.35 L1820.38,278.64 L1820.47,278.00 L1820.56,277.42 L1820.65,276.91 L1820.74,276.47 L1820.84,276.10 L1820.93,275.82 L1821.02,275.61 L1821.11,275.49 L1821.20,275.45 L1821.29,275.46 L1821.38,275.50 L1821.47,275.56 L1821.56,275.66 L1821.65,275.80 L1821.75,275.98 L1821.84,276.21 L1821.93,276.49 L1822.02,276.84 L1822.11,277.25 L1822.20,277.73 L1822.29,278.29 L1822.38,278.93 L1822.47,279.66 L1822.57,280.48 L1822.66,281.39 L1822.75,282.41 L1822.84,283.52 L1822.93,284.74 L1823.02,286.06 L1823.11,287.48 L1823.20,288.99 L1823.29,290.61 L1823.38,292.31 L1823.47,294.10 L1823.57,295.97 L1823.66,297.91 L1823.75,299.91 L1823.84,301.96 L1823.93,304.06 L1824.02,306.18 L1824.11,308.32 L1824.20,310.47 L1824.29,312.60 L1824.38,314.71 L1824.48,316.78 L1824.57,318.80 L1824.66,320.74 L1824.75,322.60 L1824.84,324.36 L1824.93,326.01 L1825.02,327.53 L1825.11,328.91 L1825.20,330.13 L1825.29,331.19 L1825.39,332.07 L1825.48,332.77 L1825.57,333.28 L1825.66,333.58 L1825.75,333.69 L1825.84,333.61 L1825.93,333.40 L1826.02,333.04 L1826.11,332.55 L1826.20,331.91 L1826.30,331.12 L1826.39,330.20 L1826.48,329.14 L1826.57,327.95 L1826.66,326.62 L1826.75,325.17 L1826.84,323.58 L1826.93,321.88 L1827.02,320.05 L1827.12,318.12 L1827.21,316.08 L1827.30,313.93 L1827.39,311.70 L1827.48,309.38 L1827.57,306.98 L1827.66,304.50 L1827.75,301.97 L1827.84,299.39 L1827.93,296.76 L1828.02,294.10 L1828.12,291.42 L1828.21,288.72 L1828.30,286.03 L1828.39,283.35 L1828.48,280.68 L1828.57,278.05 L1828.66,275.47 L1828.75,272.94 L1828.84,270.49 L1828.93,268.11 L1829.03,265.82 L1829.12,263.63 L1829.21,261.56 L1829.30,259.61 L1829.39,257.79 L1829.48,256.11 L1829.57,254.58 L1829.66,253.22 L1829.75,252.01 L1829.85,250.98 L1829.94,250.13 L1830.03,249.47 L1830.12,248.99 L1830.21,248.70 L1830.30,248.60 L1830.39,248.70 L1830.48,248.99 L1830.57,249.47 L1830.66,250.13 L1830.75,250.98 L1830.85,252.01 L1830.94,253.22 L1831.03,254.58 L1831.12,256.11 L1831.21,257.79 L1831.30,259.61 L1831.39,261.56 L1831.48,263.63 L1831.57,265.82 L1831.66,268.11 L1831.76,270.49 L1831.85,272.94 L1831.94,275.47 L1832.03,278.05 L1832.12,280.68 L1832.21,283.35 L1832.30,286.03 L1832.39,288.72 L1832.48,291.42 L1832.58,294.10 L1832.67,296.76 L1832.76,299.39 L1832.85,301.97 L1832.94,304.50 L1833.03,306.98 L1833.12,309.38 L1833.21,311.70 L1833.30,313.93 L1833.39,316.08 L1833.48,318.12 L1833.58,320.05 L1833.67,321.88 L1833.76,323.58 L1833.85,325.17 L1833.94,326.62 L1834.03,327.95 L1834.12,329.14 L1834.21,330.20 L1834.30,331.12 L1834.39,331.91 L1834.49,332.55 L1834.58,333.04 L1834.67,333.40 L1834.76,333.61 L1834.85,333.69 L1834.94,333.58 L1835.03,333.28 L1835.12,332.77 L1835.21,332.07 L1835.31,331.19 L1835.40,330.13 L1835.49,328.91 L1835.58,327.53 L1835.67,326.01 L1835.76,324.36 L1835.85,322.60 L1835.94,320.74 L1836.03,318.80 L1836.12,316.78 L1836.21,314.71 L1836.31,312.60 L1836.40,310.47 L1836.49,308.32 L1836.58,306.18 L1836.67,304.06 L1836.76,301.96 L1836.85,299.91 L1836.94,297.91 L1837.03,295.97 L1837.12,294.10 L1837.22,292.31 L1837.31,290.61 L1837.40,288.99 L1837.49,287.48 L1837.58,286.06 L1837.67,284.74 L1837.76,283.52 L1837.85,282.41 L1837.94,281.39 L1838.03,280.48 L1838.13,279.66 L1838.22,278.93 L1838.31,278.29 L1838.40,277.73 L1838.49,277.25 L1838.58,276.84 L1838.67,276.49 L1838.76,276.21 L1838.85,275.98 L1838.94,275.80 L1839.04,275.66 L1839.13,275.56 L1839.22,275.50 L1839.31,275.46 L1839.40,275.45 L1839.49,275.49 L1839.58,275.61 L1839.67,275.82 L1839.76,276.10 L1839.86,276.47 L1839.95,276.91 L1840.04,277.42 L1840.13,278.00 L1840.22,278.64 L1840.31,279.35 L1840.40,280.12 L1840.49,280.93 L1840.58,281.80 L1840.67,282.71 L1840.76,283.65 L1840.86,284.63 L1840.95,285.64 L1841.04,286.67 L1841.13,287.72 L1841.22,288.78 L1841.31,289.85 L1841.40,290.92 L1841.49,291.99 L1841.58,293.05 L1841.67,294.10 L1841.77,295.14 L1841.86,296.15 L1841.95,297.14 L1842.04,298.11 L1842.13,299.04 L1842.22,299.95 L1842.31,300.81 L1842.40,301.64 L1842.49,302.43 L1842.59,303.18 L1842.68,303.88 L1842.77,304.54 L1842.86,305.15 L1842.95,305.71 L1843.04,306.22 L1843.13,306.69 L1843.22,307.11 L1843.31,307.47 L1843.40,307.79 L1843.49,308.06 L1843.59,308.27 L1843.68,308.44 L1843.77,308.56 L1843.86,308.64 L1843.95,308.66 L1844.04,308.61 L1844.13,308.48 L1844.22,308.25 L1844.31,307.95 L1844.40,307.56 L1844.50,307.10 L1844.59,306.57 L1844.68,305.98 L1844.77,305.34 L1844.86,304.65 L1844.95,303.93 L1845.04,303.17 L1845.13,302.40 L1845.22,301.61 L1845.32,300.81 L1845.41,300.02 L1845.50,299.23 L1845.59,298.47 L1845.68,297.73 L1845.77,297.02 L1845.86,296.34 L1845.95,295.71 L1846.04,295.12 L1846.13,294.58 L1846.22,294.10 L1846.32,293.67 L1846.41,293.30 L1846.50,292.98 L1846.59,292.72 L1846.68,292.52 L1846.77,292.37 L1846.86,292.27 L1846.95,292.22 L1847.04,292.21 L1847.13,292.25 L1847.23,292.32 L1847.32,292.43 L1847.41,292.56 L1847.50,292.71 L1847.59,292.87 L1847.68,293.05 L1847.77,293.22 L1847.86,293.40 L1847.95,293.56 L1848.04,293.71 L1848.14,293.84 L1848.23,293.95 L1848.32,294.03 L1848.41,294.08 L1848.50,294.10" fill="none" stroke="#ed7d31" stroke-width="2.0" stroke-linejoin="round" stroke-linecap="round"/>
<line x1="1167.7" y1="226" x2="1425.3" y2="226" stroke="#000" stroke-width="1.6"/>
<polygon points="1155.50,226.00 1168.70,219.30 1168.70,232.70" fill="#000"/>
<polygon points="1437.50,226.00 1424.30,232.70 1424.30,219.30" fill="#000"/>
<line x1="1163.95" y1="364.25" x2="1487.05" y2="364.25" stroke="#000" stroke-width="1.6"/>
<polygon points="1151.75,364.25 1164.95,357.55 1164.95,370.95" fill="#000"/>
<polygon points="1499.25,364.25 1486.05,370.95 1486.05,357.55" fill="#000"/>
<line x1="1592.7" y1="223" x2="1630.8" y2="223" stroke="#000" stroke-width="1.6"/>
<polygon points="1580.50,223.00 1593.70,216.30 1593.70,229.70" fill="#000"/>
<polygon points="1643.00,223.00 1629.80,229.70 1629.80,216.30" fill="#000"/>
<text transform="translate(1288.93 207.34) scale(1.0236 1)" font-family='"DejaVu Serif", serif' font-size="37.44" font-style="italic">δ</text>
<text transform="translate(1316.41 415.50) scale(0.9053 1)" font-family='"Liberation Sans", sans-serif' font-size="40.00">Δ</text>
<text transform="translate(1601.74 123.00) scale(1.1704 1)" font-family='"DejaVu Serif", serif' font-size="36.70">1</text>
<line x1="1566.75" y1="141.75" x2="1662.25" y2="141.75" stroke="#000" stroke-width="1.7"/>
<text transform="translate(1567.72 181.88) scale(0.9285 1)" font-family='"Liberation Serif", serif' font-size="40.54" font-style="italic" stroke="#000" stroke-width="1.0" stroke-linejoin="round" vector-effect="non-scaling-stroke">f</text>
<text transform="translate(1584.74 190.00) scale(0.8890 1)" font-family='"DejaVu Serif", serif' font-size="27.53" font-style="italic" stroke="#000" stroke-width="0.8" stroke-linejoin="round" vector-effect="non-scaling-stroke">OGSE</text>
<text transform="translate(5.85 477.16) scale(0.9946 1)" font-family='"Liberation Sans", sans-serif' font-size="33.92" font-weight="bold">C</text>
<text transform="translate(94.68 482.10) scale(0.8279 1)" font-family='"Liberation Sans", sans-serif' font-size="41.31">PGSE</text>
<text transform="translate(200.45 482.10) scale(1.0408 1)" font-family='"Liberation Sans", sans-serif' font-size="41.31">Diffusion</text>
<path d="M420.50,1166.00 C413.72,1159.00 392.88,1137.32 379.80,1124.00 C366.72,1110.68 352.52,1097.15 342.00,1086.10 C331.48,1075.05 326.43,1069.53 316.70,1057.70 C306.97,1045.87 294.90,1029.30 283.60,1015.10 C272.30,1000.90 259.17,986.97 248.90,972.50 C238.63,958.03 230.15,943.03 222.00,928.30 C213.85,913.57 205.83,896.73 200.00,884.10 C194.17,871.47 190.67,861.85 187.00,852.50 C183.33,843.15 180.57,834.82 178.00,828.00 C175.43,821.18 173.35,815.43 171.60,811.60 C169.85,807.77 169.43,809.43 167.50,805.00 C165.57,800.57 162.92,795.83 160.00,785.00 C157.08,774.17 151.67,747.50 150.00,740.00" fill="none" stroke="#ff0000" stroke-width="4.2" stroke-dasharray="14.5 11.1" stroke-linecap="butt" stroke-linejoin="round"/>
<line x1="145" y1="893.75" x2="887" y2="893.75" stroke="#222" stroke-width="1.2"/>
<path d="M164.00,582.00 C164.50,588.75 165.58,607.42 167.00,622.50 C168.42,637.58 170.12,654.58 172.50,672.50 C174.88,690.42 177.50,712.08 181.25,730.00 C185.00,747.92 190.21,766.67 195.00,780.00 C199.79,793.33 204.17,802.08 210.00,810.00 C215.83,817.92 223.33,822.29 230.00,827.50 C236.67,832.71 242.50,837.00 250.00,841.25 C257.50,845.50 266.67,849.71 275.00,853.00 C283.33,856.29 291.67,858.79 300.00,861.00 C308.33,863.21 312.50,864.12 325.00,866.25 C337.50,868.38 358.33,871.67 375.00,873.75 C391.67,875.83 408.33,877.38 425.00,878.75 C441.67,880.12 454.17,880.58 475.00,882.00 C495.83,883.42 520.83,885.92 550.00,887.30 C579.17,888.68 616.67,889.53 650.00,890.30 C683.33,891.07 710.50,891.43 750.00,891.90 C789.50,892.37 864.17,892.90 887.00,893.10" fill="none" stroke="#0000ff" stroke-width="4.3" stroke-dasharray="14 13.5" stroke-linecap="butt" stroke-linejoin="round"/>
<path d="M146.00,650.00 C146.17,656.67 146.54,676.67 147.00,690.00 C147.46,703.33 147.62,718.33 148.75,730.00 C149.88,741.67 151.67,750.42 153.75,760.00 C155.83,769.58 158.75,780.21 161.25,787.50 C163.75,794.79 165.62,798.33 168.75,803.75 C171.88,809.17 174.79,813.96 180.00,820.00 C185.21,826.04 192.50,834.17 200.00,840.00 C207.50,845.83 216.67,851.00 225.00,855.00 C233.33,859.00 241.67,861.42 250.00,864.00 C258.33,866.58 266.67,868.62 275.00,870.50 C283.33,872.38 290.83,873.88 300.00,875.30 C309.17,876.72 320.00,877.92 330.00,879.00 C340.00,880.08 345.00,880.58 360.00,881.80 C375.00,883.02 400.00,885.05 420.00,886.30 C440.00,887.55 460.00,888.45 480.00,889.30 C500.00,890.15 520.00,890.85 540.00,891.40 C560.00,891.95 570.33,892.25 600.00,892.60 C629.67,892.95 670.17,893.30 718.00,893.50 C765.83,893.70 858.83,893.75 887.00,893.80" fill="none" stroke="#000" stroke-width="5" stroke-linecap="butt" stroke-linejoin="round"/>
<line x1="145" y1="1174.4" x2="145" y2="538.25" stroke="#000" stroke-width="5.3"/>
<polygon points="145.00,523.25 153.20,539.25 136.80,539.25" fill="#000"/>
<line x1="142.2" y1="1171.6" x2="908" y2="1171.6" stroke="#000" stroke-width="5.2"/>
<polygon points="923.00,1171.60 907.00,1179.90 907.00,1163.30" fill="#000"/>
<text transform="translate(69.38 661.25) scale(0.8803 1)" font-family='"DejaVu Serif", serif' font-size="36.44" font-style="italic" stroke="#000" stroke-width="0.3" stroke-linejoin="round" vector-effect="non-scaling-stroke">D</text>
<text transform="translate(92.67 669.60) scale(1.0688 1)" font-family='"DejaVu Serif", serif' font-size="26.40">0</text>
<text transform="translate(70.13 907.00) scale(0.8562 1)" font-family='"DejaVu Serif", serif' font-size="37.47" font-style="italic" stroke="#000" stroke-width="0.3" stroke-linejoin="round" vector-effect="non-scaling-stroke">D</text>
<text transform="translate(94.88 915.36) scale(1.0870 1)" font-family='"Liberation Serif", serif' font-size="33.55" stroke="#000" stroke-width="1.0" stroke-linejoin="round" vector-effect="non-scaling-stroke">∞</text>
<rect x="382.5" y="663" width="334.29999999999995" height="81.79999999999995" fill="none" stroke="#2038ff" stroke-width="1.9" stroke-dasharray="9.5 6"/>
<line x1="546.3" y1="745" x2="546.3" y2="846" stroke="#3f51f0" stroke-width="6.6"/>
<polygon points="546.30,863.90 536.50,844.90 556.10,844.90" fill="#3f51f0"/>
<text transform="translate(409.53 716.30) scale(0.7227 1)" font-family='"DejaVu Serif", serif' font-size="30.55" font-style="italic" stroke="#000" stroke-width="0.8" stroke-linejoin="round" vector-effect="non-scaling-stroke">D</text>
<text transform="translate(430.28 718.44) scale(1.5961 1)" font-family='"DejaVu Sans", sans-serif' font-size="37.59" font-weight="200" stroke="#000" stroke-width="0.35" stroke-linejoin="round" vector-effect="non-scaling-stroke">(</text>
<text transform="translate(449.22 716.30) scale(1.1471 1)" font-family='"DejaVu Serif", serif' font-size="29.85" font-style="italic">t</text>
<text transform="translate(457.78 718.44) scale(1.7160 1)" font-family='"DejaVu Sans", sans-serif' font-size="37.59" font-weight="200" stroke="#000" stroke-width="0.35" stroke-linejoin="round" vector-effect="non-scaling-stroke">)</text>
<text transform="translate(489.96 716.76) scale(1.7493 1)" font-family='"Liberation Serif", serif' font-size="26.80" stroke="#000" stroke-width="1.0" stroke-linejoin="round" vector-effect="non-scaling-stroke">=</text>
<text transform="translate(529.49 716.30) scale(0.8418 1)" font-family='"DejaVu Serif", serif' font-size="30.55" font-style="italic" stroke="#000" stroke-width="0.8" stroke-linejoin="round" vector-effect="non-scaling-stroke">D</text>
<text transform="translate(551.75 724.59) scale(1.2839 1)" font-family='"Liberation Serif", serif' font-size="23.95" stroke="#000" stroke-width="1.0" stroke-linejoin="round" vector-effect="non-scaling-stroke">∞</text>
<text transform="translate(585.31 722.01) scale(1.0000 1)" font-family='"Liberation Serif", serif' font-size="46.34" stroke="#000" stroke-width="0.45" stroke-linejoin="round" vector-effect="non-scaling-stroke">+</text>
<text transform="translate(623.57 716.30) scale(0.8173 1)" font-family='"DejaVu Serif", serif' font-size="30.55" font-style="italic" stroke="#000" stroke-width="0.8" stroke-linejoin="round" vector-effect="non-scaling-stroke">A</text>
<text transform="translate(646.30 722.61) scale(0.7999 1)" font-family='"Liberation Serif", serif' font-size="49.10" stroke="#000" stroke-width="1.0" stroke-linejoin="round" vector-effect="non-scaling-stroke">/</text>
<text transform="translate(662.76 716.30) scale(1.0604 1)" font-family='"DejaVu Serif", serif' font-size="29.85" font-style="italic">t</text>
<rect x="349.9" y="943.8" width="562.6" height="140.60000000000014" fill="none" stroke="#ff0000" stroke-width="1.9" stroke-dasharray="9.5 6"/>
<line x1="303" y1="1014.25" x2="350" y2="1014.25" stroke="#ff0000" stroke-width="5.8"/>
<polygon points="285.00,1014.25 304.50,1004.85 304.50,1023.65" fill="#ff0000"/>
<text transform="translate(369.17 1029.80) scale(0.8084 1)" font-family='"DejaVu Serif", serif' font-size="30.68" font-style="italic" stroke="#000" stroke-width="0.8" stroke-linejoin="round" vector-effect="non-scaling-stroke">D</text>
<text transform="translate(390.28 1031.44) scale(1.5961 1)" font-family='"DejaVu Sans", sans-serif' font-size="37.59" font-weight="200" stroke="#000" stroke-width="0.35" stroke-linejoin="round" vector-effect="non-scaling-stroke">(</text>
<text transform="translate(408.93 1029.80) scale(1.1375 1)" font-family='"DejaVu Serif", serif' font-size="29.85" font-style="italic">t</text>
<text transform="translate(417.32 1031.44) scale(1.7310 1)" font-family='"DejaVu Sans", sans-serif' font-size="37.59" font-weight="200" stroke="#000" stroke-width="0.35" stroke-linejoin="round" vector-effect="non-scaling-stroke">)</text>
<text transform="translate(449.05 1029.76) scale(1.7573 1)" font-family='"Liberation Serif", serif' font-size="26.80" stroke="#000" stroke-width="1.0" stroke-linejoin="round" vector-effect="non-scaling-stroke">=</text>
<text transform="translate(489.00 1029.80) scale(0.8592 1)" font-family='"DejaVu Serif", serif' font-size="30.68" font-style="italic" stroke="#000" stroke-width="0.8" stroke-linejoin="round" vector-effect="non-scaling-stroke">D</text>
<text transform="translate(510.38 1037.11) scale(1.2292 1)" font-family='"DejaVu Serif", serif' font-size="19.01">0</text>
<text transform="translate(522.94 1052.32) scale(1.0457 1)" font-family='"DejaVu Sans", sans-serif' font-size="103.98" font-weight="200" stroke="#fff" stroke-width="1.4" stroke-linejoin="round" vector-effect="non-scaling-stroke">(</text>
<text transform="translate(554.22 1029.80) scale(1.1103 1)" font-family='"DejaVu Serif", serif' font-size="30.71">1</text>
<text transform="translate(582.94 1028.21) scale(1.6129 1)" font-family='"Liberation Serif", serif' font-size="28.00" stroke="#000" stroke-width="1.0" stroke-linejoin="round" vector-effect="non-scaling-stroke">−</text>
<line x1="619.3" y1="1017.9" x2="708" y2="1017.9" stroke="#000" stroke-width="1.7"/>
<text transform="translate(653.05 1001.70) scale(1.0091 1)" font-family='"DejaVu Serif", serif' font-size="31.25">4</text>
<text transform="translate(618.65 1055.40) scale(1.0221 1)" font-family='"DejaVu Serif", serif' font-size="30.71">3</text>
<text transform="translate(639.95 1055.40) scale(0.8488 1)" font-family='"DejaVu Serif", serif' font-size="32.50" font-style="italic">d</text>
<text transform="translate(658.98 1060.49) scale(1.1986 1)" font-family='"Liberation Serif", serif' font-size="40.88" stroke="#000" stroke-width="0.4" stroke-linejoin="round" vector-effect="non-scaling-stroke">√</text>
<line x1="684.8" y1="1028.85" x2="708" y2="1028.85" stroke="#000" stroke-width="1.7"/>
<text transform="translate(684.11 1055.40) scale(0.9464 1)" font-family='"Liberation Serif", serif' font-size="40.43" font-style="italic" stroke="#000" stroke-width="0.6" stroke-linejoin="round" vector-effect="non-scaling-stroke">π</text>
<text transform="translate(715.86 1028.26) scale(1.0000 1)" font-family='"Liberation Serif", serif' font-size="25.53" stroke="#000" stroke-width="1.0" stroke-linejoin="round" vector-effect="non-scaling-stroke">·</text>
<line x1="734.25" y1="1017.9" x2="758" y2="1017.9" stroke="#000" stroke-width="1.7"/>
<text transform="translate(735.49 1001.50) scale(0.9937 1)" font-family='"DejaVu Serif", serif' font-size="30.44" font-style="italic" stroke="#000" stroke-width="0.3" stroke-linejoin="round" vector-effect="non-scaling-stroke">S</text>
<text transform="translate(733.77 1055.40) scale(0.8874 1)" font-family='"DejaVu Serif", serif' font-size="31.16" font-style="italic" stroke="#000" stroke-width="0.3" stroke-linejoin="round" vector-effect="non-scaling-stroke">V</text>
<text transform="translate(766.36 1028.26) scale(1.0000 1)" font-family='"Liberation Serif", serif' font-size="25.53" stroke="#000" stroke-width="1.0" stroke-linejoin="round" vector-effect="non-scaling-stroke">·</text>
<text transform="translate(783.90 1040.63) scale(0.9285 1)" font-family='"Liberation Serif", serif' font-size="55.86" stroke="#000" stroke-width="0.4" stroke-linejoin="round" vector-effect="non-scaling-stroke">√</text>
<line x1="811.3" y1="997.15" x2="867.5" y2="997.15" stroke="#000" stroke-width="1.7"/>
<text transform="translate(814.57 1029.80) scale(0.9184 1)" font-family='"DejaVu Serif", serif' font-size="30.68" font-style="italic" stroke="#000" stroke-width="0.8" stroke-linejoin="round" vector-effect="non-scaling-stroke">D</text>
<text transform="translate(835.49 1037.11) scale(1.2240 1)" font-family='"DejaVu Serif", serif' font-size="19.01">0</text>
<text transform="translate(848.49 1029.80) scale(1.3736 1)" font-family='"DejaVu Serif", serif' font-size="29.85" font-style="italic">t</text>
<text transform="translate(855.53 1052.32) scale(1.0511 1)" font-family='"DejaVu Sans", sans-serif' font-size="103.98" font-weight="200" stroke="#fff" stroke-width="1.4" stroke-linejoin="round" vector-effect="non-scaling-stroke">)</text>
<text transform="translate(137.49 1215.73) scale(1.1853 1)" font-family='"Liberation Sans", sans-serif' font-size="26.50">0</text>
<text transform="translate(881.67 1219.91) scale(1.1117 1)" font-family='"Liberation Sans", sans-serif' font-size="44.08">∞</text>
<text transform="translate(412.01 1252.30) scale(1.0238 1)" font-family='"Liberation Sans", sans-serif' font-size="37.82">Diffusion</text>
<text transform="translate(574.41 1252.30) scale(1.0360 1)" font-family='"Liberation Sans", sans-serif' font-size="37.82">time</text>
<text transform="translate(657.15 1252.30) scale(1.3419 1)" font-family='"Liberation Sans", sans-serif' font-size="35.66" font-style="italic">t</text>
<text transform="translate(970.56 476.90) scale(1.0257 1)" font-family='"Liberation Sans", sans-serif' font-size="33.75" font-weight="bold">D</text>
<text transform="translate(1045.31 482.10) scale(0.8594 1)" font-family='"Liberation Sans", sans-serif' font-size="41.31">OGSE</text>
<text transform="translate(1157.94 482.10) scale(1.0446 1)" font-family='"Liberation Sans", sans-serif' font-size="41.31">Diffusion</text>
<path d="M1106.40,1132.40 C1109.90,1132.45 1120.15,1133.45 1127.40,1132.70 C1134.65,1131.95 1143.67,1129.70 1149.90,1127.90 C1156.13,1126.10 1159.82,1124.65 1164.80,1121.90 C1169.78,1119.15 1174.80,1115.88 1179.80,1111.40 C1184.80,1106.92 1190.30,1100.73 1194.80,1095.00 C1199.30,1089.27 1203.55,1082.50 1206.80,1077.00 C1210.05,1071.50 1212.05,1066.75 1214.30,1062.00 C1216.55,1057.25 1218.13,1053.95 1220.30,1048.50 C1222.47,1043.05 1224.17,1037.63 1227.30,1029.30 C1230.43,1020.97 1235.15,1009.55 1239.10,998.50 C1243.05,987.45 1247.05,974.83 1251.00,963.00 C1254.95,951.17 1258.87,939.33 1262.80,927.50 C1266.73,915.67 1271.00,902.42 1274.60,892.00 C1278.20,881.58 1280.40,875.82 1284.40,865.00 C1288.40,854.18 1293.87,838.53 1298.60,827.10 C1303.33,815.67 1307.67,806.25 1312.80,796.40 C1317.93,786.55 1323.48,777.07 1329.40,768.00 C1335.32,758.93 1341.20,750.48 1348.30,742.00 C1355.40,733.52 1364.12,724.20 1372.00,717.10 C1379.88,710.00 1387.72,704.72 1395.60,699.40 C1403.48,694.08 1411.42,689.35 1419.30,685.20 C1427.18,681.05 1435.02,677.73 1442.90,674.50 C1450.78,671.27 1458.70,668.43 1466.60,665.80 C1474.50,663.17 1482.42,660.92 1490.30,658.70 C1498.18,656.48 1504.98,654.88 1513.90,652.50 C1522.82,650.12 1531.50,647.77 1543.80,644.40 C1556.10,641.03 1573.08,635.95 1587.70,632.30 C1602.32,628.65 1616.90,625.42 1631.50,622.50 C1646.10,619.58 1660.70,617.18 1675.30,614.80 C1689.90,612.42 1704.48,610.40 1719.10,608.20 C1733.72,606.00 1748.38,603.78 1763.00,601.60 C1777.62,599.42 1791.65,597.28 1806.80,595.10 C1821.95,592.92 1846.05,589.60 1853.90,588.50" fill="none" stroke="#000" stroke-width="4.0" stroke-linecap="butt" stroke-linejoin="round"/>
<path d="M1853.90,587.60 C1846.05,588.77 1821.95,592.33 1806.80,594.60 C1791.65,596.87 1777.62,599.00 1763.00,601.20 C1748.38,603.40 1733.72,605.65 1719.10,607.80 C1704.48,609.95 1689.90,611.83 1675.30,614.10 C1660.70,616.37 1646.10,618.80 1631.50,621.40 C1616.90,624.00 1602.32,626.60 1587.70,629.70 C1573.08,632.80 1556.10,636.67 1543.80,640.00 C1531.50,643.33 1522.82,646.90 1513.90,649.70 C1504.98,652.50 1498.18,654.43 1490.30,656.80 C1482.42,659.17 1474.50,661.33 1466.60,663.90 C1458.70,666.47 1450.78,669.25 1442.90,672.20 C1435.02,675.15 1427.18,678.25 1419.30,681.60 C1411.42,684.95 1403.48,688.35 1395.60,692.30 C1387.72,696.25 1379.88,700.57 1372.00,705.30 C1364.12,710.03 1356.20,714.98 1348.30,720.70 C1340.40,726.42 1332.48,732.50 1324.60,739.60 C1316.72,746.70 1308.88,753.83 1301.00,763.30 C1293.12,772.77 1284.40,785.77 1277.30,796.40 C1270.20,807.03 1263.92,816.45 1258.40,827.10 C1252.88,837.75 1247.80,849.08 1244.20,860.30 C1240.60,871.52 1239.62,881.22 1236.80,894.40 C1233.98,907.58 1230.27,922.83 1227.30,939.40 C1224.33,955.97 1221.37,976.85 1219.00,993.80 C1216.63,1010.75 1214.87,1025.33 1213.10,1041.10 C1211.33,1056.87 1209.78,1072.23 1208.40,1088.40 C1207.02,1104.57 1205.62,1125.67 1204.80,1138.10 C1203.98,1150.53 1203.72,1158.85 1203.50,1163.00" fill="none" stroke="#ff0000" stroke-width="4.9" stroke-dasharray="21.7 16.9" stroke-linecap="butt" stroke-linejoin="round"/>
<path d="M1106.00,1132.50 C1110.83,1132.25 1126.00,1132.08 1135.00,1131.00 C1144.00,1129.92 1150.92,1127.77 1160.00,1126.00 C1169.08,1124.23 1175.92,1123.90 1189.50,1120.40 C1203.08,1116.90 1223.37,1110.53 1241.50,1105.00 C1259.63,1099.47 1279.37,1093.52 1298.30,1087.20 C1317.23,1080.88 1336.97,1074.00 1355.10,1067.10 C1373.23,1060.20 1390.93,1052.70 1407.10,1045.80 C1423.27,1038.90 1436.22,1033.17 1452.10,1025.70 C1467.98,1018.23 1483.80,1010.23 1502.40,1001.00 C1521.00,991.77 1543.27,981.03 1563.70,970.30 C1584.13,959.57 1608.95,945.82 1625.00,936.60 C1641.05,927.38 1654.17,918.60 1660.00,915.00" fill="none" stroke="#0000ff" stroke-width="3.6" stroke-dasharray="14.3 14" stroke-linecap="butt" stroke-linejoin="round"/>
<line x1="1103.75" y1="1174.2" x2="1103.75" y2="538.25" stroke="#000" stroke-width="5.3"/>
<polygon points="1103.75,523.25 1111.95,539.25 1095.55,539.25" fill="#000"/>
<line x1="1101" y1="1171.6" x2="1867" y2="1171.6" stroke="#000" stroke-width="5.2"/>
<polygon points="1882.00,1171.60 1866.00,1179.90 1866.00,1163.30" fill="#000"/>
<text transform="translate(1874.80 600.80) scale(0.8151 1)" font-family='"DejaVu Serif", serif' font-size="36.64" font-style="italic" stroke="#000" stroke-width="0.3" stroke-linejoin="round" vector-effect="non-scaling-stroke">D</text>
<text transform="translate(1898.76 609.11) scale(1.0385 1)" font-family='"DejaVu Serif", serif' font-size="25.74">0</text>
<text transform="translate(1025.33 1129.40) scale(0.8493 1)" font-family='"DejaVu Serif", serif' font-size="37.47" font-style="italic" stroke="#000" stroke-width="0.3" stroke-linejoin="round" vector-effect="non-scaling-stroke">D</text>
<text transform="translate(1051.13 1139.11) scale(1.0870 1)" font-family='"Liberation Serif", serif' font-size="33.55" stroke="#000" stroke-width="1.0" stroke-linejoin="round" vector-effect="non-scaling-stroke">∞</text>
<rect x="1453" y="736" width="543" height="176" fill="#fff"/>
<rect x="1452.2" y="734.8" width="545.3" height="178.20000000000005" fill="none" stroke="#ff0000" stroke-width="1.9" stroke-dasharray="9.5 6"/>
<line x1="1708.5" y1="735" x2="1708.5" y2="639" stroke="#ff0000" stroke-width="6.5"/>
<polygon points="1708.50,620.00 1718.50,640.00 1698.50,640.00" fill="#ff0000"/>
<text transform="translate(1478.35 836.80) scale(0.7988 1)" font-family='"DejaVu Serif", serif' font-size="29.59" font-style="italic" stroke="#000" stroke-width="0.8" stroke-linejoin="round" vector-effect="non-scaling-stroke">D</text>
<text transform="translate(1499.19 838.40) scale(1.4637 1)" font-family='"DejaVu Sans", sans-serif' font-size="37.14" font-weight="200" stroke="#000" stroke-width="0.35" stroke-linejoin="round" vector-effect="non-scaling-stroke">(</text>
<text transform="translate(1518.28 836.80) scale(0.9671 1)" font-family='"DejaVu Serif", serif' font-size="29.42" font-style="italic">ω</text>
<text transform="translate(1542.31 838.40) scale(1.3120 1)" font-family='"DejaVu Sans", sans-serif' font-size="37.14" font-weight="200" stroke="#000" stroke-width="0.35" stroke-linejoin="round" vector-effect="non-scaling-stroke">)</text>
<text transform="translate(1571.18 836.46) scale(1.7333 1)" font-family='"Liberation Serif", serif' font-size="26.80" stroke="#000" stroke-width="1.0" stroke-linejoin="round" vector-effect="non-scaling-stroke">=</text>
<text transform="translate(1609.71 836.80) scale(0.9349 1)" font-family='"DejaVu Serif", serif' font-size="29.59" font-style="italic" stroke="#000" stroke-width="0.8" stroke-linejoin="round" vector-effect="non-scaling-stroke">D</text>
<text transform="translate(1630.88 844.11) scale(1.2292 1)" font-family='"DejaVu Serif", serif' font-size="19.01">0</text>
<text transform="translate(1641.42 876.05) scale(0.8596 1)" font-family='"DejaVu Sans", sans-serif' font-size="152.04" font-weight="200" stroke="#fff" stroke-width="2.8" stroke-linejoin="round" vector-effect="non-scaling-stroke">(</text>
<text transform="translate(1678.33 836.80) scale(1.2050 1)" font-family='"DejaVu Serif", serif' font-size="29.63">1</text>
<text transform="translate(1708.31 836.81) scale(1.5668 1)" font-family='"Liberation Serif", serif' font-size="28.00" stroke="#000" stroke-width="1.0" stroke-linejoin="round" vector-effect="non-scaling-stroke">−</text>
<line x1="1744" y1="827.5" x2="1814.8" y2="827.5" stroke="#000" stroke-width="1.7"/>
<text transform="translate(1743.42 811.00) scale(0.9299 1)" font-family='"DejaVu Serif", serif' font-size="34.00">c(N)</text>
<text transform="translate(1746.69 867.70) scale(0.9640 1)" font-family='"DejaVu Serif", serif' font-size="31.92">3</text>
<text transform="translate(1764.98 870.97) scale(1.1196 1)" font-family='"Liberation Serif", serif' font-size="43.76" stroke="#000" stroke-width="0.4" stroke-linejoin="round" vector-effect="non-scaling-stroke">√</text>
<line x1="1790.8" y1="837.0500000000001" x2="1810.5" y2="837.0500000000001" stroke="#000" stroke-width="1.7"/>
<text transform="translate(1790.63 867.70) scale(1.0999 1)" font-family='"DejaVu Serif", serif' font-size="31.92">2</text>
<text transform="translate(1823.36 835.96) scale(1.0000 1)" font-family='"Liberation Serif", serif' font-size="25.53" stroke="#000" stroke-width="1.0" stroke-linejoin="round" vector-effect="non-scaling-stroke">·</text>
<line x1="1841.7" y1="827.5" x2="1864.9" y2="827.5" stroke="#000" stroke-width="1.7"/>
<text transform="translate(1842.65 810.60) scale(0.9328 1)" font-family='"DejaVu Serif", serif' font-size="31.99" font-style="italic" stroke="#000" stroke-width="0.3" stroke-linejoin="round" vector-effect="non-scaling-stroke">S</text>
<text transform="translate(1841.32 862.80) scale(0.8260 1)" font-family='"DejaVu Serif", serif' font-size="32.12" font-style="italic" stroke="#000" stroke-width="0.3" stroke-linejoin="round" vector-effect="non-scaling-stroke">V</text>
<text transform="translate(1873.76 835.96) scale(1.0000 1)" font-family='"Liberation Serif", serif' font-size="25.53" stroke="#000" stroke-width="1.0" stroke-linejoin="round" vector-effect="non-scaling-stroke">·</text>
<text transform="translate(1891.82 882.15) scale(1.1490 1)" font-family='"Liberation Serif", serif' font-size="33.98" stroke="#000" stroke-width="0.6" stroke-linejoin="round" vector-effect="non-scaling-stroke">√</text>
<line x1="1912.6" y1="856.5" x2="1915.6" y2="762.6" stroke="#000" stroke-width="1.9"/>
<line x1="1914.8" y1="762.6" x2="1961" y2="762.6" stroke="#000" stroke-width="1.7"/>
<line x1="1920.3" y1="827.5" x2="1960.5" y2="827.5" stroke="#000" stroke-width="1.7"/>
<text transform="translate(1922.64 811.00) scale(0.9970 1)" font-family='"DejaVu Serif", serif' font-size="29.18" font-style="italic" stroke="#000" stroke-width="0.8" stroke-linejoin="round" vector-effect="non-scaling-stroke">D</text>
<text transform="translate(1944.58 817.72) scale(1.1786 1)" font-family='"DejaVu Serif", serif' font-size="18.48">0</text>
<text transform="translate(1927.01 862.30) scale(0.9678 1)" font-family='"DejaVu Serif", serif' font-size="31.35" font-style="italic">ω</text>
<text transform="translate(1946.53 876.05) scale(0.8411 1)" font-family='"DejaVu Sans", sans-serif' font-size="152.04" font-weight="200" stroke="#fff" stroke-width="2.8" stroke-linejoin="round" vector-effect="non-scaling-stroke">)</text>
<rect x="1514.9" y="1017.4" width="414.29999999999995" height="82.00000000000011" fill="none" stroke="#2038ff" stroke-width="1.9" stroke-dasharray="9.5 6"/>
<line x1="1417" y1="1061.2" x2="1515" y2="1061.2" stroke="#3f51f0" stroke-width="6.5"/>
<polygon points="1399.70,1061.20 1418.70,1051.60 1418.70,1070.80" fill="#3f51f0"/>
<text transform="translate(1536.50 1069.60) scale(0.8874 1)" font-family='"DejaVu Serif", serif' font-size="30.00" font-style="italic" stroke="#000" stroke-width="0.8" stroke-linejoin="round" vector-effect="non-scaling-stroke">D</text>
<text transform="translate(1557.07 1070.71) scale(1.6502 1)" font-family='"DejaVu Sans", sans-serif' font-size="36.36" font-weight="200" stroke="#000" stroke-width="0.35" stroke-linejoin="round" vector-effect="non-scaling-stroke">(</text>
<text transform="translate(1577.99 1069.60) scale(0.9306 1)" font-family='"DejaVu Serif", serif' font-size="30.00" font-style="italic">ω</text>
<text transform="translate(1597.57 1070.71) scale(1.6502 1)" font-family='"DejaVu Sans", sans-serif' font-size="36.36" font-weight="200" stroke="#000" stroke-width="0.35" stroke-linejoin="round" vector-effect="non-scaling-stroke">)</text>
<text transform="translate(1628.65 1068.76) scale(1.6771 1)" font-family='"Liberation Serif", serif' font-size="26.80" stroke="#000" stroke-width="1.0" stroke-linejoin="round" vector-effect="non-scaling-stroke">=</text>
<text transform="translate(1668.28 1069.60) scale(0.8872 1)" font-family='"DejaVu Serif", serif' font-size="36.30" font-style="italic" stroke="#000" stroke-width="0.4" stroke-linejoin="round" vector-effect="non-scaling-stroke">D</text>
<text transform="translate(1694.91 1078.09) scale(1.1922 1)" font-family='"Liberation Serif", serif' font-size="28.95" stroke="#000" stroke-width="1.0" stroke-linejoin="round" vector-effect="non-scaling-stroke">∞</text>
<text transform="translate(1731.98 1075.81) scale(0.9675 1)" font-family='"Liberation Serif", serif' font-size="46.34" stroke="#000" stroke-width="0.45" stroke-linejoin="round" vector-effect="non-scaling-stroke">+</text>
<text transform="translate(1769.16 1069.60) scale(0.8087 1)" font-family='"DejaVu Serif", serif' font-size="30.00" font-style="italic" stroke="#000" stroke-width="0.8" stroke-linejoin="round" vector-effect="non-scaling-stroke">B</text>
<text transform="translate(1798.82 1075.90) scale(1.0613 1)" font-family='"Liberation Serif", serif' font-size="44.79" stroke="#000" stroke-width="0.45" stroke-linejoin="round" vector-effect="non-scaling-stroke">×</text>
<text transform="translate(1834.30 1069.60) scale(1.0632 1)" font-family='"DejaVu Serif", serif' font-size="29.04" font-style="italic">ω</text>
<text transform="translate(1862.56 1059.30) scale(1.2615 1)" font-family='"Liberation Sans", sans-serif' font-size="24.09">3/2</text>
<text transform="translate(1092.51 1215.54) scale(1.1435 1)" font-family='"Liberation Sans", sans-serif' font-size="26.01">0</text>
<text transform="translate(1817.87 1215.05) scale(1.1252 1)" font-family='"Liberation Sans", sans-serif' font-size="44.47">∞</text>
<text transform="translate(1301.51 1252.00) scale(0.9814 1)" font-family='"Liberation Sans", sans-serif' font-size="38.11">Angular</text>
<text transform="translate(1439.93 1252.00) scale(0.9979 1)" font-family='"Liberation Sans", sans-serif' font-size="38.11">frequency</text>
<text transform="translate(1618.41 1252.06) scale(1.0671 1)" font-family='"Liberation Sans", sans-serif' font-size="34.34" font-style="italic">ω</text>
</svg></body></html>
